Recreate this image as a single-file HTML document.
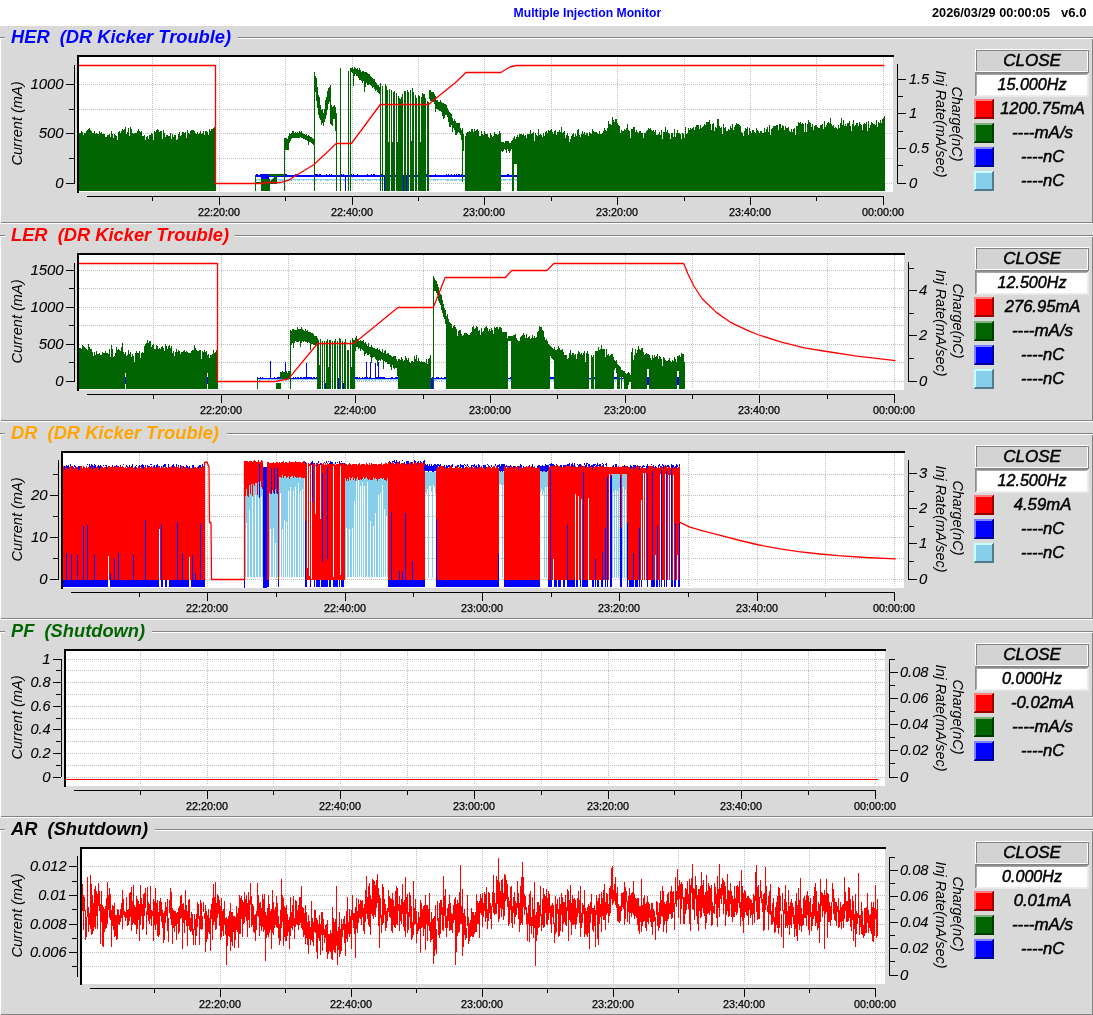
<!DOCTYPE html>
<html><head><meta charset="utf-8"><title>Multiple Injection Monitor</title>
<style>html,body{margin:0;padding:0;background:#fff;overflow:hidden}svg{display:block}text{white-space:pre}</style>
</head><body>
<svg width="1093" height="1015" viewBox="0 0 1093 1015" font-family="'Liberation Sans', Arial, Helvetica, sans-serif">
<rect x="0" y="0" width="1093" height="26" fill="#fff" />
<rect x="0" y="26" width="1093" height="989" fill="#d9d9d9" />
<text x="587.4" y="17" font-size="12.2" fill="#0000ff" font-weight="bold" font-style="normal" text-anchor="middle" >Multiple Injection Monitor</text>
<text x="932" y="17" font-size="12.3" fill="#000" font-weight="bold" font-style="normal" text-anchor="start"  textLength="118" lengthAdjust="spacingAndGlyphs">2026/03/29 00:00:05</text>
<text x="1061" y="17" font-size="12.3" fill="#000" font-weight="bold" font-style="normal" text-anchor="start"  textLength="25.5" lengthAdjust="spacingAndGlyphs">v6.0</text>
<rect x="0" y="37" width="1093" height="1" fill="#828282" />
<rect x="0" y="38" width="1093" height="1" fill="#fff" />
<rect x="0" y="38" width="1" height="186" fill="#fff" />
<rect x="1" y="222" width="1092" height="1" fill="#828282" />
<rect x="0" y="223" width="1093" height="1" fill="#fff" />
<rect x="1092" y="39" width="1" height="184" fill="#828282" />
<rect x="5" y="36" width="233" height="4" fill="#d9d9d9" />
<text x="11" y="42.5" font-size="18.3" fill="#0000ff" font-weight="bold" font-style="italic" text-anchor="start" >HER  (DR Kicker Trouble)</text>
<rect x="77" y="55" width="816" height="137" fill="#fff" />
<rect x="77" y="55" width="817" height="2" fill="#000" />
<rect x="77" y="55" width="2" height="138" fill="#000" />
<line x1="79" y1="84.5" x2="893" y2="84.5" stroke="#bebebe" stroke-width="1" stroke-dasharray="1 1"/>
<line x1="79" y1="109.5" x2="893" y2="109.5" stroke="#bebebe" stroke-width="1" stroke-dasharray="1 1"/>
<line x1="79" y1="133.5" x2="893" y2="133.5" stroke="#bebebe" stroke-width="1" stroke-dasharray="1 1"/>
<line x1="79" y1="158.5" x2="893" y2="158.5" stroke="#bebebe" stroke-width="1" stroke-dasharray="1 1"/>
<line x1="79" y1="183.5" x2="893" y2="183.5" stroke="#bebebe" stroke-width="1" stroke-dasharray="1 1"/>
<line x1="152.5" y1="57" x2="152.5" y2="191" stroke="#bebebe" stroke-width="1" stroke-dasharray="1 1"/>
<line x1="219.5" y1="57" x2="219.5" y2="191" stroke="#bebebe" stroke-width="1" stroke-dasharray="1 1"/>
<line x1="285.5" y1="57" x2="285.5" y2="191" stroke="#bebebe" stroke-width="1" stroke-dasharray="1 1"/>
<line x1="352.5" y1="57" x2="352.5" y2="191" stroke="#bebebe" stroke-width="1" stroke-dasharray="1 1"/>
<line x1="418.5" y1="57" x2="418.5" y2="191" stroke="#bebebe" stroke-width="1" stroke-dasharray="1 1"/>
<line x1="484.5" y1="57" x2="484.5" y2="191" stroke="#bebebe" stroke-width="1" stroke-dasharray="1 1"/>
<line x1="551.5" y1="57" x2="551.5" y2="191" stroke="#bebebe" stroke-width="1" stroke-dasharray="1 1"/>
<line x1="617.5" y1="57" x2="617.5" y2="191" stroke="#bebebe" stroke-width="1" stroke-dasharray="1 1"/>
<line x1="684.5" y1="57" x2="684.5" y2="191" stroke="#bebebe" stroke-width="1" stroke-dasharray="1 1"/>
<line x1="750.5" y1="57" x2="750.5" y2="191" stroke="#bebebe" stroke-width="1" stroke-dasharray="1 1"/>
<line x1="816.5" y1="57" x2="816.5" y2="191" stroke="#bebebe" stroke-width="1" stroke-dasharray="1 1"/>
<line x1="883.5" y1="57" x2="883.5" y2="191" stroke="#bebebe" stroke-width="1" stroke-dasharray="1 1"/>
<path d="M256.5 179v2M257.5 179v1M258.5 179v1M259.5 179v2M260.5 179v2M261.5 179v2M262.5 179v1M263.5 179v1M264.5 179v2M265.5 179v2M266.5 179v1M267.5 179v2M268.5 179v1M269.5 179v2M270.5 179v2M271.5 179v1M272.5 179v2M273.5 179v1M274.5 179v1M275.5 179v2M276.5 179v2M277.5 179v1M278.5 179v1M279.5 179v2M280.5 179v2M281.5 179v2M282.5 179v2M283.5 179v2M284.5 179v2M285.5 179v2M286.5 179v2M287.5 179v2M288.5 179v2M289.5 179v2M290.5 179v2M291.5 179v2M292.5 179v1M293.5 179v1M294.5 179v1M295.5 179v2M296.5 179v1M297.5 179v1M298.5 179v2M299.5 179v2M300.5 179v1M301.5 179v1M302.5 179v1M303.5 179v2M304.5 179v1M305.5 179v1M306.5 179v2M307.5 179v1M308.5 179v1M309.5 179v1M310.5 179v1M311.5 179v1M312.5 179v2M313.5 179v2M314.5 179v1M315.5 179v2M316.5 179v2M317.5 179v1M318.5 179v1M319.5 179v1M320.5 179v2M321.5 179v2M322.5 179v1M323.5 179v1M324.5 179v1M325.5 179v2M326.5 179v2M327.5 179v2M328.5 179v2M329.5 179v1M330.5 179v1M331.5 179v1M332.5 179v2M333.5 179v2M334.5 179v1M335.5 179v1M336.5 179v1M337.5 179v1M338.5 179v1M339.5 179v2M340.5 179v1M341.5 179v1M342.5 179v1M343.5 179v2M344.5 179v2M345.5 179v1M346.5 179v1M347.5 179v2M348.5 179v1M349.5 179v1M350.5 179v1M351.5 179v1M352.5 179v1M353.5 179v1M354.5 179v1M355.5 179v2M356.5 179v2M357.5 179v1M358.5 179v1M359.5 179v2M360.5 179v1M361.5 179v2M362.5 179v2M363.5 179v2M364.5 179v1M365.5 179v1M366.5 179v1M367.5 179v2M368.5 179v2M369.5 179v2M370.5 179v2M371.5 179v1M372.5 179v1M373.5 179v1M374.5 179v1M375.5 179v1M376.5 179v2M377.5 179v1M378.5 179v1M379.5 179v2M380.5 179v2M381.5 179v2M382.5 179v1M383.5 179v2M384.5 179v2M385.5 179v1M386.5 179v2M387.5 179v2M388.5 179v2M389.5 179v1M390.5 179v2M391.5 179v2M392.5 179v1M393.5 179v2M394.5 179v2M395.5 179v2M396.5 179v2M397.5 179v2M398.5 179v2M399.5 179v2M400.5 179v2M401.5 179v1M402.5 179v1M403.5 179v2M404.5 179v1M405.5 179v1M406.5 179v2M407.5 179v2M408.5 179v2M409.5 179v1M410.5 179v2M411.5 179v1M412.5 179v1M413.5 179v1M414.5 179v2M415.5 179v1M416.5 179v1M417.5 179v1M418.5 179v2M419.5 179v1M420.5 179v2M421.5 179v1M422.5 179v2M423.5 179v1M424.5 179v2M425.5 179v2M426.5 179v1M427.5 179v1M428.5 179v2M429.5 179v1M430.5 179v2M431.5 179v1M432.5 179v1M433.5 179v2M434.5 179v2M435.5 179v2M436.5 179v1M437.5 179v2M438.5 179v1M439.5 179v1M440.5 179v1M441.5 179v2M442.5 179v1M443.5 179v1M444.5 179v1M445.5 179v1M446.5 179v2M447.5 179v2M448.5 179v2M449.5 179v1M450.5 179v2M451.5 179v2M452.5 179v2M453.5 179v1M454.5 179v2M455.5 179v2M456.5 179v2M457.5 179v1M458.5 179v1M459.5 179v2M460.5 179v2M461.5 179v2M462.5 179v1M463.5 179v1M464.5 179v2M465.5 179v2M466.5 179v1M467.5 179v1M468.5 179v1M469.5 179v2M470.5 179v1M471.5 179v1M472.5 179v2M473.5 179v1M474.5 179v2M475.5 179v1M476.5 179v2M477.5 179v2M478.5 179v1M479.5 179v2M480.5 179v1M481.5 179v1M482.5 179v1M483.5 179v2M484.5 179v2M485.5 179v2M486.5 179v1M487.5 179v1M488.5 179v1M489.5 179v1M490.5 179v2M491.5 179v1M492.5 179v2M493.5 179v2M494.5 179v2M495.5 179v1M496.5 179v1M497.5 179v1M498.5 179v2M499.5 179v1M500.5 179v1M501.5 179v2M502.5 179v1M503.5 179v2M504.5 179v2M505.5 179v2M506.5 179v1M507.5 179v1M508.5 179v1M509.5 179v2M510.5 179v2M511.5 179v1M512.5 179v1M513.5 179v2M514.5 179v1M515.5 179v2M516.5 179v2" stroke="#87ceeb" stroke-width="1" fill="none" shape-rendering="crispEdges"/>
<path d="M255.5 175v2M256.5 174v3M257.5 174v3M258.5 175v2M259.5 175v2M260.5 174v3M261.5 174v11M262.5 174v11M263.5 174v11M264.5 174v11M265.5 174v11M266.5 174v11M267.5 174v11M268.5 174v11M269.5 175v2M270.5 175v2M271.5 175v2M272.5 174v3M273.5 175v2M274.5 174v3M275.5 174v3M276.5 175v2M277.5 175v2M278.5 175v2M279.5 175v2M280.5 175v2M281.5 174v3M282.5 175v2M283.5 175v2M284.5 175v2M285.5 174v3M286.5 174v3M287.5 175v2M288.5 175v2M289.5 175v2M290.5 175v2M291.5 175v2M292.5 175v2M293.5 175v2M294.5 175v2M295.5 174v3M296.5 174v3M297.5 175v2M298.5 175v2M299.5 175v2M300.5 175v2M301.5 175v2M302.5 175v2M303.5 175v2M304.5 175v2M305.5 175v2M306.5 175v2M307.5 175v2M308.5 175v2M309.5 175v2M310.5 175v2M311.5 175v2M312.5 175v2M313.5 175v2M314.5 174v3M315.5 174v3M316.5 174v3M317.5 174v3M318.5 175v2M319.5 174v3M320.5 174v3M321.5 175v2M322.5 175v2M323.5 175v2M324.5 175v2M325.5 175v2M326.5 174v3M327.5 175v2M328.5 175v2M329.5 174v3M330.5 175v2M331.5 174v3M332.5 175v2M333.5 175v2M334.5 175v2M335.5 175v2M336.5 174v3M337.5 175v2M338.5 175v2M339.5 175v2M340.5 175v2M341.5 174v3M342.5 175v2M343.5 174v3M344.5 175v2M345.5 175v16M346.5 175v2M347.5 175v2M348.5 175v2M349.5 175v2M350.5 175v2M351.5 174v3M352.5 175v2M353.5 174v3M354.5 175v2M355.5 175v2M356.5 175v2M357.5 174v3M358.5 175v2M359.5 175v2M360.5 175v2M361.5 175v2M362.5 175v2M363.5 175v2M364.5 175v2M365.5 175v2M366.5 175v2M367.5 174v3M368.5 175v2M369.5 175v2M370.5 175v2M371.5 174v3M372.5 175v2M373.5 174v3M374.5 174v3M375.5 175v2M376.5 175v2M377.5 175v2M378.5 175v2M379.5 175v2M380.5 174v3M381.5 174v3M382.5 175v2M383.5 175v2M384.5 175v16M385.5 175v16M386.5 175v2M387.5 175v2M388.5 174v3M389.5 175v2M390.5 175v2M391.5 174v3M392.5 175v2M393.5 175v2M394.5 175v2M395.5 175v2M396.5 175v2M397.5 175v2M398.5 174v3M399.5 174v3M400.5 175v2M401.5 175v2M402.5 174v3M403.5 175v16M404.5 175v16M405.5 175v16M406.5 175v16M407.5 175v2M408.5 175v2M409.5 175v2M410.5 175v2M411.5 175v2M412.5 175v2M413.5 175v2M414.5 175v2M415.5 175v2M416.5 174v3M417.5 175v2M418.5 174v3M419.5 175v2M420.5 175v2M421.5 174v3M422.5 175v2M423.5 175v2M424.5 175v2M425.5 175v2M426.5 174v3M427.5 175v2M428.5 174v3M429.5 175v2M430.5 175v2M431.5 175v2M432.5 175v2M433.5 175v2M434.5 175v2M435.5 174v3M436.5 175v2M437.5 175v2M438.5 175v2M439.5 175v2M440.5 175v2M441.5 175v2M442.5 175v2M443.5 175v2M444.5 175v2M445.5 175v2M446.5 174v3M447.5 175v2M448.5 174v3M449.5 175v2M450.5 175v2M451.5 174v3M452.5 175v2M453.5 175v2M454.5 174v3M455.5 175v2M456.5 174v3M457.5 175v2M458.5 174v3M459.5 174v3M460.5 175v2M461.5 174v3M462.5 175v2M463.5 175v2M464.5 175v2M465.5 174v3M466.5 175v2M467.5 175v2M468.5 175v2M469.5 175v2M470.5 175v2M471.5 175v2M472.5 175v2M473.5 175v2M474.5 175v2M475.5 175v2M476.5 175v2M477.5 175v2M478.5 175v2M479.5 175v2M480.5 175v2M481.5 175v2M482.5 174v3M483.5 175v2M484.5 174v3M485.5 175v2M486.5 175v2M487.5 175v2M488.5 175v2M489.5 175v2M490.5 174v3M491.5 175v2M492.5 175v2M493.5 175v2M494.5 175v2M495.5 175v2M496.5 175v2M497.5 174v3M498.5 175v2M499.5 175v2M500.5 175v2M501.5 175v2M502.5 175v2M503.5 175v2M504.5 175v2M505.5 175v2M506.5 175v2M507.5 174v3M508.5 174v3M509.5 175v2M510.5 175v2M511.5 175v2M512.5 175v2M513.5 175v2M514.5 175v2M515.5 175v2M516.5 175v2" stroke="#0000ff" stroke-width="1" fill="none" shape-rendering="crispEdges"/>
<path d="M79.5 133v58M80.5 133v58M81.5 131v60M82.5 132v59M83.5 135v56M84.5 133v58M85.5 133v58M86.5 131v60M87.5 130v61M88.5 129v62M89.5 128v63M90.5 130v61M91.5 131v60M92.5 133v58M93.5 133v58M94.5 131v60M95.5 134v57M96.5 133v58M97.5 134v57M98.5 134v57M99.5 131v60M100.5 133v58M101.5 132v59M102.5 134v57M103.5 134v57M104.5 134v57M105.5 137v54M106.5 137v54M107.5 135v56M108.5 135v56M109.5 134v57M110.5 137v54M111.5 131v60M112.5 134v57M113.5 138v53M114.5 134v57M115.5 135v56M116.5 136v55M117.5 140v51M118.5 132v59M119.5 131v60M120.5 133v58M121.5 131v60M122.5 129v62M123.5 130v61M124.5 129v62M125.5 127v64M126.5 134v57M127.5 132v59M128.5 128v63M129.5 136v55M130.5 127v64M131.5 129v62M132.5 133v58M133.5 134v57M134.5 133v58M135.5 133v58M136.5 133v58M137.5 131v60M138.5 129v62M139.5 131v60M140.5 132v59M141.5 131v60M142.5 136v55M143.5 136v55M144.5 135v56M145.5 140v51M146.5 137v54M147.5 136v55M148.5 139v52M149.5 135v56M150.5 135v56M151.5 133v58M152.5 134v57M153.5 140v51M154.5 131v60M155.5 132v59M156.5 130v61M157.5 129v62M158.5 130v61M159.5 132v59M160.5 131v60M161.5 131v60M162.5 139v52M163.5 130v61M164.5 133v58M165.5 137v54M166.5 135v56M167.5 135v56M168.5 136v55M169.5 136v55M170.5 133v58M171.5 139v52M172.5 134v57M173.5 137v54M174.5 135v56M175.5 135v56M176.5 140v51M177.5 139v52M178.5 134v57M179.5 132v59M180.5 136v55M181.5 135v56M182.5 132v59M183.5 132v59M184.5 133v58M185.5 132v59M186.5 138v53M187.5 130v61M188.5 133v58M189.5 134v57M190.5 131v60M191.5 130v61M192.5 130v61M193.5 130v61M194.5 131v60M195.5 133v58M196.5 134v57M197.5 132v59M198.5 134v57M199.5 133v58M200.5 131v60M201.5 134v57M202.5 133v58M203.5 131v60M204.5 135v56M205.5 131v60M206.5 131v60M207.5 132v59M208.5 135v56M209.5 129v62M210.5 131v60M211.5 129v62M212.5 129v62M213.5 128v63M214.5 127v64M215.5 126v65M255.5 175v16M256.5 182v2M257.5 182v2M258.5 182v2M259.5 182v2M260.5 182v2M261.5 179v12M262.5 179v12M263.5 179v12M264.5 179v12M265.5 179v12M266.5 179v12M267.5 179v12M268.5 179v12M269.5 174v2M269.5 179v12M270.5 174v2M270.5 181v3M271.5 174v2M271.5 180v4M272.5 174v2M272.5 179v5M273.5 174v2M273.5 178v6M274.5 174v2M274.5 177v7M275.5 174v10M276.5 174v10M277.5 174v2M278.5 174v2M279.5 174v2M280.5 174v2M281.5 174v2M282.5 174v2M283.5 174v2M284.5 138v53M285.5 138v12M286.5 138v12M287.5 139v11M288.5 136v14M289.5 133v10M290.5 134v7M291.5 133v6M292.5 131v7M293.5 131v7M294.5 133v5M295.5 132v6M296.5 133v5M297.5 132v6M298.5 133v5M299.5 131v7M300.5 132v5M301.5 131v7M302.5 133v5M303.5 134v5M304.5 134v5M305.5 135v5M306.5 134v6M307.5 136v5M308.5 135v10M309.5 136v6M310.5 137v5M311.5 137v6M312.5 138v6M313.5 139v6M314.5 72v119M315.5 76v16M316.5 78v23M317.5 87v21M318.5 95v20M319.5 97v21M320.5 105v15M321.5 110v15M322.5 109v14M323.5 113v13M324.5 109v13M325.5 100v19M326.5 97v18M327.5 91v19M328.5 88v16M329.5 87v15M330.5 85v39M331.5 105v20M332.5 107v19M333.5 106v13M334.5 105v14M335.5 107v24M336.5 113v78M340.5 68v123M348.5 71v120M350.5 68v123M351.5 68v4M352.5 67v6M353.5 69v17M354.5 67v9M355.5 68v6M356.5 69v7M357.5 68v8M358.5 70v8M359.5 68v12M360.5 70v10M361.5 72v9M362.5 71v12M363.5 71v10M364.5 72v20M365.5 72v15M366.5 72v11M367.5 73v12M368.5 74v11M369.5 74v10M370.5 76v9M371.5 77v9M372.5 78v10M373.5 79v8M374.5 79v10M375.5 82v9M376.5 83v7M377.5 85v7M378.5 85v8M379.5 87v7M380.5 83v108M382.5 86v105M385.5 84v107M386.5 86v105M387.5 90v101M388.5 142v49M389.5 89v102M391.5 90v101M392.5 142v49M393.5 92v99M394.5 91v100M396.5 93v98M397.5 142v49M398.5 96v95M399.5 98v93M400.5 99v92M401.5 97v94M402.5 94v97M404.5 91v100M405.5 91v100M407.5 90v101M408.5 92v99M410.5 90v101M411.5 141v50M412.5 88v103M413.5 92v99M415.5 95v96M416.5 98v93M418.5 95v96M419.5 96v95M420.5 142v49M421.5 97v94M422.5 93v98M423.5 94v97M424.5 94v97M425.5 98v93M427.5 101v90M428.5 102v89M429.5 90v9M430.5 90v11M431.5 92v9M432.5 92v10M433.5 92v10M434.5 94v10M435.5 96v16M436.5 100v9M437.5 100v9M438.5 102v8M439.5 102v9M440.5 100v11M441.5 102v10M442.5 103v13M443.5 103v16M444.5 104v14M445.5 104v11M446.5 105v10M447.5 108v9M448.5 110v12M449.5 112v15M450.5 113v14M451.5 114v11M452.5 118v14M453.5 121v7M454.5 119v11M455.5 121v14M456.5 123v12M457.5 123v10M458.5 123v9M459.5 123v10M460.5 128v7M461.5 130v10M462.5 128v54M463.5 134v17M465.5 136v55M466.5 133v58M467.5 132v59M468.5 132v59M469.5 131v60M470.5 132v59M471.5 129v62M472.5 129v62M473.5 132v59M474.5 129v62M475.5 131v60M476.5 130v61M477.5 129v62M478.5 131v60M479.5 136v55M480.5 136v55M481.5 131v60M482.5 134v57M483.5 135v56M484.5 131v60M485.5 134v57M486.5 134v57M487.5 134v57M488.5 137v54M489.5 138v53M490.5 133v58M491.5 135v56M492.5 137v54M493.5 136v55M494.5 132v59M495.5 134v57M496.5 134v57M497.5 135v56M498.5 134v57M499.5 131v60M500.5 133v58M501.5 142v9M502.5 142v10M503.5 142v9M504.5 143v6M505.5 141v9M506.5 141v12M507.5 141v8M508.5 141v10M509.5 143v10M510.5 143v8M511.5 141v8M512.5 140v51M513.5 138v53M514.5 136v28M515.5 139v25M516.5 137v27M517.5 135v56M518.5 137v54M519.5 134v57M520.5 134v57M521.5 134v57M522.5 135v56M523.5 134v57M524.5 136v55M525.5 135v56M526.5 138v53M527.5 134v57M528.5 134v57M529.5 134v57M530.5 130v61M531.5 134v57M532.5 133v58M533.5 132v59M534.5 141v50M535.5 133v58M536.5 135v56M537.5 136v55M538.5 129v62M539.5 135v56M540.5 134v57M541.5 135v56M542.5 137v54M543.5 133v58M544.5 136v55M545.5 132v59M546.5 131v60M547.5 133v58M548.5 130v61M549.5 131v60M550.5 130v61M551.5 129v62M552.5 132v59M553.5 134v57M554.5 131v60M555.5 130v61M556.5 135v56M557.5 132v59M558.5 132v59M559.5 130v61M560.5 132v59M561.5 127v64M562.5 133v58M563.5 132v59M564.5 131v60M565.5 138v53M566.5 135v56M567.5 133v58M568.5 136v55M569.5 142v49M570.5 139v52M571.5 136v55M572.5 134v57M573.5 133v58M574.5 137v54M575.5 134v57M576.5 136v55M577.5 130v61M578.5 129v62M579.5 135v56M580.5 137v54M581.5 134v57M582.5 131v60M583.5 134v57M584.5 132v59M585.5 135v56M586.5 133v58M587.5 133v58M588.5 136v55M589.5 132v59M590.5 133v58M591.5 134v57M592.5 129v62M593.5 131v60M594.5 132v59M595.5 132v59M596.5 132v59M597.5 133v58M598.5 134v57M599.5 131v60M600.5 134v57M601.5 134v57M602.5 133v58M603.5 131v60M604.5 128v63M605.5 130v61M606.5 131v60M607.5 128v63M608.5 121v70M609.5 124v67M610.5 124v67M611.5 125v66M612.5 117v74M613.5 120v71M614.5 122v69M615.5 119v72M616.5 119v72M617.5 123v68M618.5 125v66M619.5 126v65M620.5 133v58M621.5 130v61M622.5 131v60M623.5 131v60M624.5 129v62M625.5 130v61M626.5 128v63M627.5 124v67M628.5 130v61M629.5 131v60M630.5 138v53M631.5 129v62M632.5 129v62M633.5 127v64M634.5 127v64M635.5 132v59M636.5 130v61M637.5 132v59M638.5 133v58M639.5 131v60M640.5 131v60M641.5 133v58M642.5 133v58M643.5 138v53M644.5 133v58M645.5 133v58M646.5 131v60M647.5 130v61M648.5 128v63M649.5 129v62M650.5 128v63M651.5 130v61M652.5 131v60M653.5 130v61M654.5 132v59M655.5 130v61M656.5 135v56M657.5 135v56M658.5 134v57M659.5 132v59M660.5 135v56M661.5 130v61M662.5 139v52M663.5 132v59M664.5 132v59M665.5 127v64M666.5 132v59M667.5 130v61M668.5 133v58M669.5 134v57M670.5 139v52M671.5 133v58M672.5 133v58M673.5 137v54M674.5 129v62M675.5 137v54M676.5 133v58M677.5 130v61M678.5 133v58M679.5 133v58M680.5 134v57M681.5 139v52M682.5 133v58M683.5 134v57M684.5 138v53M685.5 127v64M686.5 134v57M687.5 133v58M688.5 128v63M689.5 130v61M690.5 128v63M691.5 129v62M692.5 128v63M693.5 127v64M694.5 130v61M695.5 127v64M696.5 125v66M697.5 125v66M698.5 125v66M699.5 129v62M700.5 125v66M701.5 128v63M702.5 127v64M703.5 126v65M704.5 124v67M705.5 125v66M706.5 122v69M707.5 122v69M708.5 122v69M709.5 120v71M710.5 124v67M711.5 130v61M712.5 124v67M713.5 123v68M714.5 131v60M715.5 127v64M716.5 128v63M717.5 119v72M718.5 119v72M719.5 126v65M720.5 128v63M721.5 127v64M722.5 134v57M723.5 124v67M724.5 128v63M725.5 127v64M726.5 131v60M727.5 131v60M728.5 129v62M729.5 130v61M730.5 126v65M731.5 128v63M732.5 124v67M733.5 130v61M734.5 127v64M735.5 125v66M736.5 123v68M737.5 124v67M738.5 124v67M739.5 125v66M740.5 126v65M741.5 132v59M742.5 133v58M743.5 136v55M744.5 131v60M745.5 128v63M746.5 129v62M747.5 127v64M748.5 135v56M749.5 128v63M750.5 131v60M751.5 133v58M752.5 130v61M753.5 130v61M754.5 132v59M755.5 133v58M756.5 128v63M757.5 130v61M758.5 131v60M759.5 133v58M760.5 131v60M761.5 131v60M762.5 133v58M763.5 133v58M764.5 128v63M765.5 132v59M766.5 129v62M767.5 127v64M768.5 132v59M769.5 125v66M770.5 135v56M771.5 129v62M772.5 128v63M773.5 126v65M774.5 126v65M775.5 126v65M776.5 125v66M777.5 125v66M778.5 130v61M779.5 124v67M780.5 124v67M781.5 128v63M782.5 125v66M783.5 126v65M784.5 130v61M785.5 126v65M786.5 128v63M787.5 128v63M788.5 127v64M789.5 131v60M790.5 132v59M791.5 129v62M792.5 132v59M793.5 129v62M794.5 128v63M795.5 135v56M796.5 126v65M797.5 126v65M798.5 122v69M799.5 123v68M800.5 122v69M801.5 124v67M802.5 123v68M803.5 124v67M804.5 132v59M805.5 123v68M806.5 132v59M807.5 124v67M808.5 120v71M809.5 122v69M810.5 123v68M811.5 127v64M812.5 124v67M813.5 130v61M814.5 126v65M815.5 125v66M816.5 125v66M817.5 127v64M818.5 128v63M819.5 128v63M820.5 125v66M821.5 125v66M822.5 124v67M823.5 129v62M824.5 121v70M825.5 127v64M826.5 125v66M827.5 123v68M828.5 122v69M829.5 123v68M830.5 118v73M831.5 124v67M832.5 126v65M833.5 125v66M834.5 128v63M835.5 127v64M836.5 128v63M837.5 129v62M838.5 125v66M839.5 128v63M840.5 123v68M841.5 118v73M842.5 125v66M843.5 120v71M844.5 126v65M845.5 124v67M846.5 126v65M847.5 123v68M848.5 123v68M849.5 121v70M850.5 126v65M851.5 131v60M852.5 124v67M853.5 120v71M854.5 126v65M855.5 125v66M856.5 123v68M857.5 123v68M858.5 126v65M859.5 122v69M860.5 124v67M861.5 125v66M862.5 130v61M863.5 124v67M864.5 123v68M865.5 124v67M866.5 122v69M867.5 131v60M868.5 121v70M869.5 128v63M870.5 125v66M871.5 122v69M872.5 123v68M873.5 124v67M874.5 124v67M875.5 125v66M876.5 120v71M877.5 127v64M878.5 122v69M879.5 123v68M880.5 120v71M881.5 123v68M882.5 119v72M883.5 118v73M884.5 116v75" stroke="#006400" stroke-width="1" fill="none" shape-rendering="crispEdges"/>
<polyline points="79.0,65.5 215.5,65.5 215.5,183.5 264.0,183.5 264.0,182.5 281.0,182.5 284.5,181.3 288.0,180.5 314.0,164.5 330.0,149.5 336.2,143.5 351.4,143.5 380.3,104.5 428.6,104.5 440.0,95.0 455.0,83.0 465.9,72.5 501.0,72.5 504.0,70.5 510.0,67.0 516.0,65.5 884.5,65.5" fill="none" stroke="#ff0000" stroke-width="1.3" stroke-linejoin="round" />
<rect x="74" y="65" width="1" height="119" fill="#000" />
<rect x="66" y="183" width="8" height="1" fill="#000" />
<text x="63.6" y="188" font-size="14" fill="#000" font-weight="normal" font-style="italic" text-anchor="end" stroke="#000" stroke-width="0.1" textLength="8.3" lengthAdjust="spacingAndGlyphs">0</text>
<rect x="66" y="133" width="8" height="1" fill="#000" />
<text x="63.6" y="138" font-size="14" fill="#000" font-weight="normal" font-style="italic" text-anchor="end" stroke="#000" stroke-width="0.1" textLength="24.900000000000002" lengthAdjust="spacingAndGlyphs">500</text>
<rect x="66" y="84" width="8" height="1" fill="#000" />
<text x="63.6" y="89" font-size="14" fill="#000" font-weight="normal" font-style="italic" text-anchor="end" stroke="#000" stroke-width="0.1" textLength="33.2" lengthAdjust="spacingAndGlyphs">1000</text>
<rect x="69" y="158" width="5" height="1" fill="#000" />
<rect x="69" y="109" width="5" height="1" fill="#000" />
<rect x="897" y="64" width="1" height="120" fill="#000" />
<rect x="898" y="183" width="8" height="1" fill="#000" />
<text x="909" y="188" font-size="14" fill="#000" font-weight="normal" font-style="italic" text-anchor="start" stroke="#000" stroke-width="0.1" textLength="8.3" lengthAdjust="spacingAndGlyphs">0</text>
<rect x="898" y="148" width="8" height="1" fill="#000" />
<text x="909" y="153" font-size="14" fill="#000" font-weight="normal" font-style="italic" text-anchor="start" stroke="#000" stroke-width="0.1" textLength="20.1" lengthAdjust="spacingAndGlyphs">0.5</text>
<rect x="898" y="113" width="8" height="1" fill="#000" />
<text x="909" y="118" font-size="14" fill="#000" font-weight="normal" font-style="italic" text-anchor="start" stroke="#000" stroke-width="0.1" textLength="8.3" lengthAdjust="spacingAndGlyphs">1</text>
<rect x="898" y="79" width="8" height="1" fill="#000" />
<text x="909" y="84" font-size="14" fill="#000" font-weight="normal" font-style="italic" text-anchor="start" stroke="#000" stroke-width="0.1" textLength="20.1" lengthAdjust="spacingAndGlyphs">1.5</text>
<rect x="898" y="165" width="5" height="1" fill="#000" />
<rect x="898" y="131" width="5" height="1" fill="#000" />
<rect x="898" y="96" width="5" height="1" fill="#000" />
<rect x="87" y="196" width="797" height="1" fill="#000" />
<rect x="219" y="197" width="1" height="8" fill="#000" />
<text x="219" y="216" font-size="10.5" fill="#000" font-weight="normal" font-style="normal" text-anchor="middle" stroke="#000" stroke-width="0.25" textLength="42" lengthAdjust="spacingAndGlyphs">22:20:00</text>
<rect x="352" y="197" width="1" height="8" fill="#000" />
<text x="352" y="216" font-size="10.5" fill="#000" font-weight="normal" font-style="normal" text-anchor="middle" stroke="#000" stroke-width="0.25" textLength="42" lengthAdjust="spacingAndGlyphs">22:40:00</text>
<rect x="484" y="197" width="1" height="8" fill="#000" />
<text x="484" y="216" font-size="10.5" fill="#000" font-weight="normal" font-style="normal" text-anchor="middle" stroke="#000" stroke-width="0.25" textLength="42" lengthAdjust="spacingAndGlyphs">23:00:00</text>
<rect x="617" y="197" width="1" height="8" fill="#000" />
<text x="617" y="216" font-size="10.5" fill="#000" font-weight="normal" font-style="normal" text-anchor="middle" stroke="#000" stroke-width="0.25" textLength="42" lengthAdjust="spacingAndGlyphs">23:20:00</text>
<rect x="750" y="197" width="1" height="8" fill="#000" />
<text x="750" y="216" font-size="10.5" fill="#000" font-weight="normal" font-style="normal" text-anchor="middle" stroke="#000" stroke-width="0.25" textLength="42" lengthAdjust="spacingAndGlyphs">23:40:00</text>
<rect x="883" y="197" width="1" height="8" fill="#000" />
<text x="883" y="216" font-size="10.5" fill="#000" font-weight="normal" font-style="normal" text-anchor="middle" stroke="#000" stroke-width="0.25" textLength="42" lengthAdjust="spacingAndGlyphs">00:00:00</text>
<rect x="152" y="197" width="1" height="4" fill="#000" />
<rect x="285" y="197" width="1" height="4" fill="#000" />
<rect x="418" y="197" width="1" height="4" fill="#000" />
<rect x="551" y="197" width="1" height="4" fill="#000" />
<rect x="684" y="197" width="1" height="4" fill="#000" />
<rect x="816" y="197" width="1" height="4" fill="#000" />
<text transform="translate(936,124) rotate(90)" font-size="14" font-style="italic" text-anchor="middle" textLength="107" lengthAdjust="spacingAndGlyphs">Inj Rate(mA/sec)</text>
<text transform="translate(952,124) rotate(90)" font-size="14" font-style="italic" text-anchor="middle" textLength="75" lengthAdjust="spacingAndGlyphs">Charge(nC)</text>
<text transform="translate(21.5,123.5) rotate(-90)" font-size="14" font-style="italic" text-anchor="middle" textLength="84" lengthAdjust="spacingAndGlyphs">Current (mA)</text>
<rect x="975" y="49" width="114" height="24" fill="#d3d3d3" />
<rect x="975" y="49" width="114" height="1" fill="#fff" />
<rect x="975" y="49" width="1" height="23" fill="#fff" />
<rect x="975" y="72" width="114" height="1" fill="#828282" />
<rect x="1088" y="50" width="1" height="23" fill="#828282" />
<rect x="976" y="50" width="112" height="1" fill="#828282" />
<rect x="976" y="50" width="1" height="21" fill="#828282" />
<rect x="976" y="71" width="112" height="1" fill="#fff" />
<rect x="1087" y="51" width="1" height="21" fill="#fff" />
<text x="1032" y="66" font-size="16.8" fill="#000" font-weight="normal" font-style="italic" text-anchor="middle" stroke="#000" stroke-width="0.5" textLength="57.7" lengthAdjust="spacingAndGlyphs">CLOSE</text>
<rect x="975" y="73" width="114" height="24" fill="#fff" />
<rect x="975" y="96" width="114" height="1" fill="#e8e8e8" />
<rect x="1088" y="73" width="1" height="24" fill="#e8e8e8" />
<rect x="976" y="95" width="112" height="1" fill="#ececec" />
<rect x="1087" y="74" width="1" height="22" fill="#ececec" />
<rect x="975" y="73" width="113" height="1" fill="#8e8e8e" />
<rect x="975" y="73" width="1" height="23" fill="#8e8e8e" />
<rect x="976" y="74" width="111" height="1" fill="#a6a6a6" />
<rect x="976" y="74" width="1" height="21" fill="#a6a6a6" />
<text x="1032" y="90" font-size="16.8" fill="#000" font-weight="normal" font-style="italic" text-anchor="middle" stroke="#000" stroke-width="0.5" textLength="69.0" lengthAdjust="spacingAndGlyphs">15.000Hz</text>
<rect x="974" y="99" width="20" height="20" fill="#ff0000" />
<rect x="974" y="99" width="20" height="1" fill="#ff7f7f" />
<rect x="974" y="99" width="1" height="20" fill="#ff7f7f" />
<rect x="974" y="118" width="20" height="1" fill="#990000" />
<rect x="993" y="99" width="1" height="20" fill="#990000" />
<rect x="975" y="100" width="18" height="1" fill="#ff7f7f" />
<rect x="975" y="100" width="1" height="18" fill="#ff7f7f" />
<rect x="975" y="117" width="18" height="1" fill="#990000" />
<rect x="992" y="100" width="1" height="18" fill="#990000" />
<text x="1042.5" y="113.6" font-size="16.8" fill="#000" font-weight="normal" font-style="italic" text-anchor="middle" stroke="#000" stroke-width="0.5" textLength="84.7" lengthAdjust="spacingAndGlyphs">1200.75mA</text>
<rect x="974" y="123" width="20" height="20" fill="#006400" />
<rect x="974" y="123" width="20" height="1" fill="#7fb17f" />
<rect x="974" y="123" width="1" height="20" fill="#7fb17f" />
<rect x="974" y="142" width="20" height="1" fill="#003c00" />
<rect x="993" y="123" width="1" height="20" fill="#003c00" />
<rect x="975" y="124" width="18" height="1" fill="#7fb17f" />
<rect x="975" y="124" width="1" height="18" fill="#7fb17f" />
<rect x="975" y="141" width="18" height="1" fill="#003c00" />
<rect x="992" y="124" width="1" height="18" fill="#003c00" />
<text x="1042.5" y="137.6" font-size="16.8" fill="#000" font-weight="normal" font-style="italic" text-anchor="middle" stroke="#000" stroke-width="0.5" textLength="61.2" lengthAdjust="spacingAndGlyphs">----mA/s</text>
<rect x="974" y="147" width="20" height="20" fill="#0000ff" />
<rect x="974" y="147" width="20" height="1" fill="#7f7fff" />
<rect x="974" y="147" width="1" height="20" fill="#7f7fff" />
<rect x="974" y="166" width="20" height="1" fill="#000099" />
<rect x="993" y="147" width="1" height="20" fill="#000099" />
<rect x="975" y="148" width="18" height="1" fill="#7f7fff" />
<rect x="975" y="148" width="1" height="18" fill="#7f7fff" />
<rect x="975" y="165" width="18" height="1" fill="#000099" />
<rect x="992" y="148" width="1" height="18" fill="#000099" />
<text x="1042.5" y="161.6" font-size="16.8" fill="#000" font-weight="normal" font-style="italic" text-anchor="middle" stroke="#000" stroke-width="0.5" textLength="43.2" lengthAdjust="spacingAndGlyphs">----nC</text>
<rect x="974" y="171" width="20" height="20" fill="#87ceeb" />
<rect x="974" y="171" width="20" height="1" fill="#c3ffff" />
<rect x="974" y="171" width="1" height="20" fill="#c3ffff" />
<rect x="974" y="190" width="20" height="1" fill="#517b8d" />
<rect x="993" y="171" width="1" height="20" fill="#517b8d" />
<rect x="975" y="172" width="18" height="1" fill="#c3ffff" />
<rect x="975" y="172" width="1" height="18" fill="#c3ffff" />
<rect x="975" y="189" width="18" height="1" fill="#517b8d" />
<rect x="992" y="172" width="1" height="18" fill="#517b8d" />
<text x="1042.5" y="185.6" font-size="16.8" fill="#000" font-weight="normal" font-style="italic" text-anchor="middle" stroke="#000" stroke-width="0.5" textLength="43.2" lengthAdjust="spacingAndGlyphs">----nC</text>
<rect x="0" y="235" width="1093" height="1" fill="#828282" />
<rect x="0" y="236" width="1093" height="1" fill="#fff" />
<rect x="0" y="236" width="1" height="186" fill="#fff" />
<rect x="1" y="420" width="1092" height="1" fill="#828282" />
<rect x="0" y="421" width="1093" height="1" fill="#fff" />
<rect x="1092" y="237" width="1" height="184" fill="#828282" />
<rect x="5" y="234" width="230" height="4" fill="#d9d9d9" />
<text x="11" y="240.5" font-size="18.3" fill="#ff0000" font-weight="bold" font-style="italic" text-anchor="start" >LER  (DR Kicker Trouble)</text>
<rect x="77" y="253" width="827" height="137" fill="#fff" />
<rect x="77" y="253" width="828" height="2" fill="#000" />
<rect x="77" y="253" width="2" height="138" fill="#000" />
<line x1="79" y1="270.5" x2="904" y2="270.5" stroke="#bebebe" stroke-width="1" stroke-dasharray="1 1"/>
<line x1="79" y1="288.5" x2="904" y2="288.5" stroke="#bebebe" stroke-width="1" stroke-dasharray="1 1"/>
<line x1="79" y1="307.5" x2="904" y2="307.5" stroke="#bebebe" stroke-width="1" stroke-dasharray="1 1"/>
<line x1="79" y1="325.5" x2="904" y2="325.5" stroke="#bebebe" stroke-width="1" stroke-dasharray="1 1"/>
<line x1="79" y1="344.5" x2="904" y2="344.5" stroke="#bebebe" stroke-width="1" stroke-dasharray="1 1"/>
<line x1="79" y1="362.5" x2="904" y2="362.5" stroke="#bebebe" stroke-width="1" stroke-dasharray="1 1"/>
<line x1="79" y1="381.5" x2="904" y2="381.5" stroke="#bebebe" stroke-width="1" stroke-dasharray="1 1"/>
<line x1="153.5" y1="255" x2="153.5" y2="389" stroke="#bebebe" stroke-width="1" stroke-dasharray="1 1"/>
<line x1="221.5" y1="255" x2="221.5" y2="389" stroke="#bebebe" stroke-width="1" stroke-dasharray="1 1"/>
<line x1="288.5" y1="255" x2="288.5" y2="389" stroke="#bebebe" stroke-width="1" stroke-dasharray="1 1"/>
<line x1="355.5" y1="255" x2="355.5" y2="389" stroke="#bebebe" stroke-width="1" stroke-dasharray="1 1"/>
<line x1="423.5" y1="255" x2="423.5" y2="389" stroke="#bebebe" stroke-width="1" stroke-dasharray="1 1"/>
<line x1="490.5" y1="255" x2="490.5" y2="389" stroke="#bebebe" stroke-width="1" stroke-dasharray="1 1"/>
<line x1="557.5" y1="255" x2="557.5" y2="389" stroke="#bebebe" stroke-width="1" stroke-dasharray="1 1"/>
<line x1="625.5" y1="255" x2="625.5" y2="389" stroke="#bebebe" stroke-width="1" stroke-dasharray="1 1"/>
<line x1="692.5" y1="255" x2="692.5" y2="389" stroke="#bebebe" stroke-width="1" stroke-dasharray="1 1"/>
<line x1="759.5" y1="255" x2="759.5" y2="389" stroke="#bebebe" stroke-width="1" stroke-dasharray="1 1"/>
<line x1="827.5" y1="255" x2="827.5" y2="389" stroke="#bebebe" stroke-width="1" stroke-dasharray="1 1"/>
<line x1="894.5" y1="255" x2="894.5" y2="389" stroke="#bebebe" stroke-width="1" stroke-dasharray="1 1"/>
<path d="M257.5 379v1M258.5 379v1M259.5 379v2M260.5 379v2M261.5 379v1M262.5 379v1M263.5 379v1M264.5 379v1M265.5 379v1M266.5 379v1M267.5 379v1M268.5 379v2M269.5 379v1M270.5 379v1M271.5 379v1M272.5 379v1M273.5 379v1M274.5 379v1M275.5 379v1M276.5 379v2M277.5 379v2M278.5 379v2M279.5 379v1M280.5 379v1M281.5 379v1M282.5 379v1M283.5 379v1M284.5 379v1M285.5 379v2M286.5 379v2M287.5 379v1M288.5 379v2M289.5 379v1M290.5 379v1M291.5 379v1M292.5 379v2M293.5 379v1M294.5 379v1M295.5 379v1M296.5 379v1M297.5 379v1M298.5 379v1M299.5 379v1M300.5 379v1M301.5 379v1M302.5 379v2M303.5 379v1M304.5 379v1M305.5 379v1M306.5 379v1M307.5 379v1M308.5 379v1M309.5 379v1M310.5 379v1M311.5 379v1M312.5 379v1M313.5 379v1M314.5 379v1M315.5 379v1M316.5 379v1M355.5 379v1M356.5 379v1M357.5 379v2M358.5 379v1M359.5 379v2M360.5 379v1M361.5 379v2M362.5 379v1M363.5 379v2M364.5 379v1M365.5 379v2M366.5 379v2M367.5 379v1M368.5 379v2M369.5 379v2M370.5 379v1M371.5 379v1M372.5 379v2M373.5 379v1M374.5 379v2M375.5 379v2M376.5 379v1M377.5 379v1M378.5 379v1M379.5 379v2M380.5 379v1M381.5 379v2M382.5 379v1M383.5 379v1M384.5 379v1M385.5 379v1M386.5 379v1M387.5 379v1M388.5 379v1M389.5 379v1M390.5 379v2M391.5 379v1M392.5 379v1M393.5 379v2M394.5 379v1M395.5 379v1M396.5 379v2M397.5 379v1M398.5 379v1M399.5 379v1M400.5 379v2M401.5 379v1M402.5 379v2M403.5 379v1M404.5 379v1M405.5 379v2M406.5 379v1M407.5 379v2M408.5 379v2M409.5 379v2M410.5 379v2M411.5 379v2M412.5 379v1M413.5 379v1M414.5 379v1M415.5 379v1M416.5 379v1M417.5 379v2M418.5 379v1M419.5 379v2M420.5 379v1M421.5 379v1M422.5 379v1M423.5 379v1M424.5 379v2M425.5 379v1M426.5 379v1M427.5 379v2M428.5 379v2M429.5 379v1M430.5 379v2M431.5 379v1M432.5 379v2M433.5 379v2M434.5 379v2M435.5 379v2M436.5 379v2M437.5 379v1M438.5 379v1M439.5 379v1M440.5 379v1M441.5 379v2M442.5 379v1M443.5 379v1M444.5 379v1M445.5 379v1M446.5 379v1M447.5 379v1M448.5 379v2M449.5 379v1M450.5 379v1M451.5 379v2M452.5 379v2M453.5 379v1M454.5 379v1M455.5 379v1M456.5 379v1M457.5 379v1M458.5 379v2M459.5 379v1M460.5 379v1M461.5 379v2M462.5 379v1M463.5 379v2M464.5 379v1M465.5 379v1M466.5 379v1M467.5 379v2M468.5 379v1M469.5 379v1M470.5 379v1M471.5 379v2M472.5 379v1M473.5 379v2M474.5 379v2M475.5 379v1M476.5 379v1M477.5 379v2M478.5 379v1M479.5 379v2M480.5 379v1M481.5 379v1M482.5 379v1M483.5 379v1M484.5 379v1M485.5 379v2M486.5 379v2M487.5 379v2M488.5 379v1M489.5 379v1M490.5 379v1M491.5 379v1M492.5 379v2M493.5 379v1M494.5 379v1M495.5 379v1M496.5 379v1M497.5 379v1M498.5 379v1M499.5 379v1M500.5 379v2M501.5 379v1M502.5 379v1M503.5 379v1M504.5 379v1M505.5 379v1M506.5 379v1M507.5 379v2M508.5 379v2M509.5 379v1M510.5 379v2M511.5 379v1M512.5 379v1M513.5 379v1M514.5 379v1M515.5 379v1M516.5 379v2M517.5 379v1M518.5 379v1M519.5 379v2M520.5 379v1M521.5 379v2M522.5 379v2M523.5 379v1M524.5 379v1M525.5 379v1M526.5 379v2M527.5 379v2M528.5 379v2M529.5 379v1M530.5 379v1M531.5 379v1M532.5 379v1M533.5 379v2M534.5 379v1M535.5 379v1M536.5 379v1M537.5 379v2M538.5 379v1M539.5 379v1M540.5 379v2M541.5 379v1M542.5 379v1M543.5 379v1M544.5 379v1M545.5 379v1M546.5 379v1M547.5 379v1M548.5 379v2M549.5 379v1M550.5 379v2M551.5 379v1M552.5 379v1M553.5 379v2M554.5 379v1M555.5 379v1M556.5 379v1M557.5 379v1M558.5 379v1M559.5 379v1M560.5 379v1M561.5 379v1M562.5 379v1M563.5 379v1M564.5 379v1M565.5 379v1M566.5 379v1M567.5 379v2M568.5 379v1M569.5 379v1M570.5 379v1M571.5 379v1M572.5 379v1M573.5 379v2M574.5 379v1M575.5 379v1M576.5 379v1M577.5 379v1M578.5 379v1M579.5 379v2M580.5 379v1M581.5 379v1M582.5 379v1M583.5 379v1M584.5 379v1M585.5 379v2M586.5 379v1M587.5 379v1M588.5 379v2M589.5 379v1M590.5 379v1M591.5 379v2M592.5 379v1M593.5 379v2M594.5 379v1M595.5 379v1M596.5 379v2M597.5 379v1M598.5 379v1M599.5 379v2M600.5 379v1M601.5 379v2M602.5 379v2M603.5 379v1M604.5 379v1M605.5 379v1M606.5 379v1M607.5 379v1M608.5 379v1M609.5 379v1M610.5 379v2M611.5 379v1M612.5 379v2M613.5 379v2M614.5 379v1M615.5 379v2M616.5 379v1M617.5 379v1M618.5 379v1M619.5 379v1M620.5 379v1M621.5 379v1M622.5 379v2M623.5 379v2M624.5 379v1M625.5 379v1M626.5 379v2M627.5 379v2M628.5 379v1M629.5 379v1M630.5 379v1M631.5 379v1M632.5 379v1M633.5 379v1M634.5 379v1M635.5 379v1M636.5 379v1M637.5 379v1M638.5 379v1M639.5 379v1M640.5 379v2M641.5 379v1M642.5 379v1M643.5 379v1M644.5 379v1M645.5 379v1M646.5 379v1M647.5 379v1M648.5 379v2M649.5 379v1M650.5 379v1M651.5 379v1M652.5 379v1M653.5 379v1M654.5 379v1M655.5 379v1M656.5 379v2M657.5 379v1M658.5 379v2M659.5 379v2M660.5 379v1M661.5 379v2M662.5 379v1M663.5 379v1M664.5 379v1M665.5 379v1M666.5 379v2M667.5 379v1M668.5 379v2M669.5 379v1M670.5 379v2M671.5 379v1M672.5 379v1M673.5 379v1M674.5 379v1M675.5 379v1M676.5 379v1M677.5 379v2M678.5 379v2M679.5 379v2M680.5 379v1M681.5 379v1M682.5 379v1M683.5 379v1" stroke="#87ceeb" stroke-width="1" fill="none" shape-rendering="crispEdges"/>
<path d="M257.5 377v2M258.5 378v1M259.5 378v1M260.5 377v2M261.5 378v1M262.5 377v2M263.5 378v1M264.5 378v1M265.5 378v1M266.5 378v1M267.5 378v1M268.5 378v1M269.5 378v1M270.5 361v18M271.5 378v1M272.5 378v1M273.5 378v1M274.5 377v2M275.5 378v1M276.5 378v1M277.5 377v2M278.5 377v2M279.5 377v2M280.5 378v1M281.5 377v2M282.5 377v2M283.5 378v1M284.5 377v2M285.5 362v17M286.5 377v2M287.5 377v2M288.5 377v2M289.5 377v2M290.5 378v1M291.5 378v1M292.5 378v1M293.5 377v2M294.5 378v1M295.5 377v2M296.5 378v1M297.5 377v2M298.5 377v2M299.5 378v1M300.5 377v2M301.5 377v2M302.5 378v1M303.5 377v2M304.5 377v2M305.5 377v2M306.5 363v16M307.5 377v2M308.5 377v2M309.5 377v2M310.5 377v2M311.5 377v2M312.5 378v1M313.5 377v2M314.5 377v2M315.5 378v1M316.5 377v2M355.5 377v2M356.5 377v2M357.5 377v2M358.5 378v1M359.5 377v2M360.5 378v1M361.5 378v1M362.5 377v2M363.5 378v1M364.5 377v2M365.5 377v2M366.5 362v17M367.5 377v2M368.5 378v1M369.5 377v2M370.5 362v17M371.5 378v1M372.5 378v1M373.5 378v1M374.5 378v1M375.5 363v16M376.5 377v2M377.5 377v2M378.5 362v17M379.5 377v2M380.5 377v2M381.5 377v2M382.5 377v2M383.5 377v2M384.5 377v2M385.5 378v1M386.5 378v1M387.5 378v1M388.5 378v1M389.5 378v1M390.5 378v1M391.5 377v2M392.5 377v2M393.5 378v1M394.5 378v1M395.5 377v2M396.5 377v2M397.5 377v2M398.5 377v2M399.5 377v2M400.5 377v2M401.5 378v1M402.5 378v1M403.5 378v1M404.5 377v2M405.5 377v2M406.5 378v1M407.5 378v1M408.5 377v2M409.5 378v1M410.5 378v1M411.5 378v1M412.5 377v2M413.5 378v1M414.5 377v2M415.5 377v2M416.5 378v1M417.5 378v1M418.5 378v1M419.5 378v1M420.5 378v1M421.5 377v2M422.5 377v2M423.5 378v1M424.5 378v1M425.5 378v1M426.5 378v1M427.5 377v2M428.5 377v2M429.5 377v2M430.5 378v1M431.5 378v1M432.5 377v2M433.5 378v1M434.5 378v1M435.5 378v1M436.5 377v2M437.5 377v2M438.5 377v2M439.5 378v1M440.5 378v1M441.5 377v2M442.5 378v1M443.5 378v1M444.5 377v2M445.5 377v2M446.5 378v1M447.5 377v2M448.5 378v1M449.5 377v2M450.5 378v1M451.5 377v2M452.5 378v1M453.5 377v2M454.5 377v2M455.5 378v1M456.5 377v2M457.5 378v1M458.5 378v1M459.5 377v2M460.5 378v1M461.5 378v1M462.5 378v1M463.5 377v2M464.5 377v2M465.5 377v2M466.5 377v2M467.5 377v2M468.5 377v2M469.5 377v2M470.5 377v2M471.5 377v2M472.5 378v1M473.5 377v2M474.5 377v2M475.5 378v1M476.5 378v1M477.5 377v2M478.5 378v1M479.5 378v1M480.5 378v1M481.5 378v1M482.5 377v2M483.5 377v2M484.5 378v1M485.5 377v2M486.5 377v2M487.5 378v1M488.5 377v2M489.5 377v2M490.5 377v2M491.5 377v2M492.5 378v1M493.5 377v2M494.5 377v2M495.5 377v2M496.5 378v1M497.5 377v2M498.5 378v1M499.5 377v2M500.5 377v2M501.5 378v1M502.5 377v2M503.5 377v2M504.5 378v1M505.5 378v1M506.5 378v1M507.5 377v2M508.5 378v1M509.5 378v1M510.5 377v2M511.5 377v2M512.5 378v1M513.5 378v1M514.5 377v2M515.5 378v1M516.5 378v1M517.5 378v1M518.5 378v1M519.5 378v1M520.5 377v2M521.5 377v2M522.5 377v2M523.5 378v1M524.5 377v2M525.5 378v1M526.5 377v2M527.5 377v2M528.5 378v1M529.5 377v2M530.5 377v2M531.5 377v2M532.5 377v2M533.5 377v2M534.5 378v1M535.5 378v1M536.5 377v2M537.5 378v1M538.5 378v1M539.5 377v2M540.5 378v1M541.5 377v2M542.5 378v1M543.5 377v2M544.5 378v1M545.5 378v1M546.5 378v1M547.5 378v1M548.5 378v1M549.5 378v1M550.5 377v2M551.5 377v2M552.5 377v2M553.5 377v2M554.5 377v2M555.5 377v2M556.5 378v1M557.5 378v1M558.5 378v1M559.5 378v1M560.5 377v2M561.5 378v1M562.5 377v2M563.5 378v1M564.5 377v2M565.5 377v2M566.5 377v2M567.5 378v1M568.5 377v2M569.5 378v1M570.5 377v2M571.5 377v2M572.5 378v1M573.5 378v1M574.5 377v2M575.5 378v1M576.5 377v2M577.5 378v1M578.5 378v1M579.5 378v1M580.5 378v1M581.5 378v1M582.5 378v1M583.5 377v2M584.5 377v2M585.5 378v1M586.5 377v2M587.5 378v1M588.5 378v1M589.5 378v1M590.5 378v1M591.5 377v2M592.5 378v1M593.5 378v1M594.5 377v2M595.5 377v2M596.5 378v1M597.5 377v2M598.5 377v2M599.5 378v1M600.5 378v1M601.5 378v1M602.5 378v1M603.5 377v2M604.5 378v1M605.5 377v2M606.5 377v2M607.5 378v1M608.5 378v1M609.5 377v2M610.5 378v1M611.5 377v2M612.5 378v1M613.5 377v2M614.5 377v2M615.5 377v2M616.5 377v2M617.5 377v2M618.5 378v1M619.5 377v2M620.5 378v1M621.5 377v2M622.5 378v1M623.5 378v1M624.5 377v2M625.5 378v1M626.5 377v2M627.5 377v2M628.5 377v2M629.5 377v2M630.5 378v1M631.5 378v1M632.5 378v1M633.5 377v2M634.5 377v2M635.5 378v1M636.5 378v1M637.5 378v1M638.5 377v2M639.5 378v1M640.5 377v2M641.5 377v2M642.5 377v2M643.5 378v1M644.5 378v1M645.5 378v1M646.5 378v1M647.5 377v2M648.5 377v2M649.5 377v2M650.5 377v2M651.5 377v2M652.5 377v2M653.5 378v1M654.5 378v1M655.5 378v1M656.5 378v1M657.5 377v2M658.5 377v2M659.5 378v1M660.5 378v1M661.5 378v1M662.5 378v1M663.5 378v1M664.5 377v2M665.5 378v1M666.5 377v2M667.5 378v1M668.5 377v2M669.5 378v1M670.5 378v1M671.5 378v1M672.5 377v2M673.5 378v1M674.5 378v1M675.5 377v2M676.5 378v1M677.5 378v1M678.5 378v1M679.5 378v1M680.5 378v1M681.5 377v2M682.5 378v1M683.5 378v1" stroke="#0000ff" stroke-width="1" fill="none" shape-rendering="crispEdges"/>
<path d="M79.5 348v41M80.5 348v41M81.5 349v40M82.5 345v44M83.5 346v43M84.5 347v42M85.5 348v41M86.5 349v40M87.5 350v39M88.5 344v45M89.5 347v42M90.5 349v40M91.5 349v40M92.5 352v37M93.5 356v33M94.5 352v37M95.5 355v34M96.5 351v38M97.5 354v35M98.5 354v35M99.5 353v36M100.5 355v34M101.5 355v34M102.5 352v37M103.5 353v36M104.5 353v36M105.5 351v38M106.5 353v36M107.5 353v36M108.5 354v35M109.5 349v40M110.5 357v32M111.5 345v44M112.5 349v40M113.5 357v32M114.5 356v33M115.5 353v36M116.5 347v42M117.5 350v39M118.5 349v40M119.5 350v39M120.5 351v38M121.5 347v42M122.5 343v46M123.5 352v37M124.5 354v35M125.5 352v21M126.5 356v33M127.5 355v34M128.5 350v39M129.5 354v35M130.5 352v37M131.5 357v32M132.5 354v35M133.5 356v33M134.5 362v27M135.5 353v36M136.5 351v38M137.5 353v36M138.5 353v36M139.5 351v38M140.5 358v31M141.5 353v36M142.5 352v37M143.5 353v36M144.5 346v43M145.5 344v45M146.5 343v46M147.5 340v49M148.5 343v46M149.5 341v48M150.5 341v48M151.5 347v42M152.5 345v44M153.5 344v45M154.5 349v40M155.5 349v40M156.5 345v44M157.5 346v43M158.5 349v40M159.5 348v41M160.5 349v40M161.5 347v42M162.5 346v43M163.5 348v41M164.5 351v38M165.5 344v45M166.5 346v43M167.5 349v40M168.5 346v43M169.5 345v44M170.5 348v41M171.5 346v43M172.5 353v36M173.5 351v38M174.5 356v33M175.5 352v37M176.5 349v40M177.5 352v37M178.5 350v39M179.5 351v38M180.5 354v35M181.5 352v37M182.5 352v37M183.5 351v38M184.5 350v39M185.5 352v37M186.5 351v38M187.5 352v37M188.5 353v36M189.5 353v36M190.5 353v36M191.5 351v38M192.5 350v39M193.5 350v39M194.5 345v44M195.5 348v41M196.5 350v39M197.5 351v38M198.5 351v38M199.5 350v39M200.5 350v39M201.5 359v30M202.5 351v38M203.5 352v37M204.5 350v39M205.5 352v37M206.5 351v38M207.5 355v18M208.5 354v35M209.5 358v31M210.5 355v34M211.5 355v34M212.5 354v35M213.5 350v39M214.5 353v36M215.5 352v37M216.5 350v39M217.5 351v38M257.5 378v11M276.5 383v6M277.5 383v6M278.5 383v6M279.5 383v6M280.5 372v7M280.5 383v6M281.5 372v7M282.5 371v8M283.5 372v7M284.5 372v7M285.5 372v7M286.5 371v8M287.5 373v6M288.5 371v8M289.5 371v8M290.5 330v59M291.5 331v14M292.5 329v14M293.5 329v19M294.5 330v13M295.5 330v11M296.5 330v12M297.5 327v15M298.5 329v13M299.5 329v12M300.5 329v18M301.5 327v16M302.5 329v12M303.5 330v12M304.5 331v10M305.5 329v13M306.5 331v11M307.5 330v13M308.5 332v10M309.5 332v11M310.5 332v18M311.5 333v11M312.5 333v11M313.5 334v11M314.5 336v9M315.5 336v10M316.5 336v9M317.5 338v51M318.5 340v49M319.5 365v24M320.5 339v50M322.5 341v48M324.5 341v48M326.5 341v48M327.5 339v50M328.5 367v22M329.5 340v49M330.5 340v49M332.5 341v48M334.5 341v48M335.5 339v50M337.5 341v48M339.5 338v51M340.5 339v50M342.5 341v48M344.5 342v47M345.5 339v50M347.5 350v39M348.5 350v39M350.5 340v49M351.5 367v22M352.5 338v51M353.5 340v49M354.5 340v49M355.5 338v13M356.5 336v11M357.5 339v8M358.5 339v10M359.5 341v7M360.5 340v11M361.5 341v8M362.5 341v9M363.5 340v11M364.5 343v13M365.5 342v12M366.5 344v9M367.5 346v9M368.5 343v12M369.5 347v7M370.5 347v10M371.5 345v18M372.5 347v11M373.5 348v9M374.5 348v9M375.5 349v10M376.5 349v11M377.5 348v18M378.5 350v11M379.5 349v11M380.5 351v10M381.5 352v7M382.5 349v11M383.5 353v16M384.5 351v10M385.5 350v12M386.5 354v8M387.5 353v11M388.5 353v11M389.5 355v9M390.5 355v12M391.5 356v14M392.5 357v8M393.5 356v12M394.5 356v13M395.5 356v12M396.5 359v9M397.5 361v15M398.5 359v30M399.5 359v30M400.5 360v29M401.5 357v32M402.5 359v30M403.5 361v28M404.5 360v29M405.5 356v33M406.5 358v31M407.5 360v29M408.5 358v31M409.5 362v27M410.5 363v26M411.5 361v28M412.5 361v28M413.5 362v27M414.5 356v33M415.5 359v30M416.5 355v34M417.5 361v28M418.5 358v31M419.5 361v28M420.5 362v27M421.5 361v28M422.5 362v27M423.5 362v27M424.5 362v27M425.5 363v26M426.5 359v30M427.5 364v25M428.5 359v30M429.5 358v31M430.5 355v34M433.5 276v113M434.5 278v13M435.5 280v11M436.5 281v12M437.5 284v11M438.5 287v14M439.5 291v12M440.5 294v11M441.5 295v15M442.5 300v13M443.5 304v13M444.5 308v11M445.5 310v14M446.5 316v73M447.5 314v75M448.5 319v70M449.5 322v67M450.5 323v66M451.5 324v65M452.5 328v61M453.5 326v63M454.5 325v64M455.5 327v62M456.5 329v60M457.5 336v53M458.5 331v58M459.5 330v59M460.5 330v59M461.5 334v55M462.5 336v53M463.5 335v54M464.5 333v56M465.5 333v56M466.5 333v56M467.5 334v55M468.5 335v54M469.5 335v54M470.5 333v56M471.5 332v57M472.5 327v62M473.5 326v63M474.5 329v60M475.5 328v61M476.5 326v63M477.5 327v62M478.5 331v58M479.5 330v59M480.5 335v54M481.5 328v61M482.5 332v57M483.5 331v58M484.5 328v61M485.5 327v62M486.5 326v63M487.5 328v61M488.5 331v58M489.5 329v60M490.5 331v58M491.5 328v61M492.5 330v59M493.5 334v55M494.5 327v62M495.5 328v61M496.5 327v62M497.5 327v62M498.5 329v60M499.5 327v62M500.5 327v62M501.5 328v61M502.5 332v57M503.5 332v57M504.5 332v57M505.5 332v57M506.5 332v57M507.5 338v51M508.5 336v5M509.5 336v5M510.5 336v5M511.5 336v53M512.5 336v53M513.5 335v54M514.5 335v54M515.5 334v55M516.5 338v51M517.5 340v49M518.5 341v48M519.5 341v48M520.5 337v52M521.5 336v53M522.5 335v54M523.5 333v56M524.5 335v54M525.5 338v51M526.5 334v55M527.5 338v51M528.5 337v52M529.5 336v53M530.5 339v50M531.5 338v51M532.5 335v54M533.5 338v51M534.5 336v53M535.5 338v51M536.5 337v52M537.5 332v57M538.5 331v58M539.5 326v63M540.5 327v62M541.5 327v62M542.5 330v59M543.5 331v58M544.5 337v52M545.5 340v49M546.5 339v50M547.5 341v48M548.5 344v45M549.5 345v44M550.5 346v10M551.5 347v11M552.5 348v11M553.5 349v11M554.5 347v42M555.5 350v39M556.5 350v39M557.5 349v40M558.5 346v43M559.5 348v41M560.5 350v39M561.5 350v39M562.5 349v40M563.5 352v37M564.5 355v34M565.5 355v34M566.5 355v34M567.5 359v30M568.5 358v31M569.5 353v36M570.5 350v39M571.5 355v34M572.5 353v36M573.5 353v36M574.5 355v34M575.5 354v35M576.5 359v30M577.5 354v35M578.5 351v38M579.5 352v37M580.5 354v35M581.5 353v36M582.5 355v34M583.5 353v36M584.5 351v38M585.5 362v27M586.5 353v36M587.5 351v38M588.5 354v35M591.5 355v34M592.5 357v32M593.5 355v34M595.5 351v38M596.5 351v38M597.5 351v38M598.5 347v42M599.5 350v39M600.5 349v40M601.5 345v44M602.5 349v40M603.5 349v40M604.5 349v40M605.5 357v32M606.5 349v40M607.5 355v34M608.5 354v35M609.5 356v33M610.5 355v34M611.5 354v35M612.5 354v35M613.5 357v32M614.5 360v10M615.5 361v7M616.5 360v13M617.5 364v25M618.5 365v24M619.5 366v23M620.5 367v10M621.5 370v19M622.5 370v7M623.5 371v8M624.5 371v18M625.5 373v16M626.5 374v15M627.5 373v16M628.5 372v13M629.5 373v9M630.5 375v7M631.5 352v37M632.5 348v41M633.5 360v29M634.5 355v34M635.5 349v40M636.5 353v36M637.5 350v39M638.5 346v43M639.5 349v40M640.5 350v39M641.5 348v41M642.5 348v41M643.5 352v37M644.5 355v34M645.5 354v35M646.5 353v36M647.5 354v15M648.5 354v15M649.5 355v34M650.5 358v31M651.5 360v29M652.5 355v34M653.5 358v31M654.5 355v34M655.5 357v32M656.5 356v33M657.5 354v35M658.5 359v30M659.5 356v33M660.5 357v32M661.5 359v30M662.5 366v23M663.5 357v32M664.5 358v31M665.5 360v29M666.5 361v28M667.5 361v28M668.5 360v29M669.5 358v31M670.5 361v28M671.5 362v27M672.5 360v29M673.5 361v28M674.5 357v32M675.5 359v30M676.5 362v27M677.5 356v15M678.5 356v15M679.5 355v34M680.5 357v32M681.5 353v36M682.5 354v35M683.5 354v35M684.5 362v27" stroke="#006400" stroke-width="1" fill="none" shape-rendering="crispEdges"/>
<path d="M125.5 377v7M207.5 377v7M325.5 383v6M338.5 378v11M343.5 383v6M431.5 378v11M432.5 378v11M647.5 377v8M648.5 377v8M677.5 377v8M678.5 377v8" stroke="#0000ff" stroke-width="1" fill="none" shape-rendering="crispEdges"/>
<polyline points="79.0,263.5 217.5,263.5 217.5,381.5 275.3,381.5 288.4,378.8 317.6,343.5 353.8,343.5 398.0,307.5 433.3,307.5 445.2,277.5 505.5,277.5 511.6,270.5 546.8,270.5 553.9,263.5 683.7,263.5 688.0,274.0 693.6,285.5 702.0,298.5 716.3,312.4 730.5,322.3 747.5,330.3 758.8,335.0 781.5,342.2 804.2,347.8 826.9,351.5 855.2,355.8 895.5,360.6" fill="none" stroke="#ff0000" stroke-width="1.3" stroke-linejoin="round" />
<rect x="74" y="263" width="1" height="119" fill="#000" />
<rect x="66" y="381" width="8" height="1" fill="#000" />
<text x="63.6" y="386" font-size="14" fill="#000" font-weight="normal" font-style="italic" text-anchor="end" stroke="#000" stroke-width="0.1" textLength="8.3" lengthAdjust="spacingAndGlyphs">0</text>
<rect x="66" y="344" width="8" height="1" fill="#000" />
<text x="63.6" y="349" font-size="14" fill="#000" font-weight="normal" font-style="italic" text-anchor="end" stroke="#000" stroke-width="0.1" textLength="24.900000000000002" lengthAdjust="spacingAndGlyphs">500</text>
<rect x="66" y="307" width="8" height="1" fill="#000" />
<text x="63.6" y="312" font-size="14" fill="#000" font-weight="normal" font-style="italic" text-anchor="end" stroke="#000" stroke-width="0.1" textLength="33.2" lengthAdjust="spacingAndGlyphs">1000</text>
<rect x="66" y="270" width="8" height="1" fill="#000" />
<text x="63.6" y="275" font-size="14" fill="#000" font-weight="normal" font-style="italic" text-anchor="end" stroke="#000" stroke-width="0.1" textLength="33.2" lengthAdjust="spacingAndGlyphs">1500</text>
<rect x="69" y="362" width="5" height="1" fill="#000" />
<rect x="69" y="325" width="5" height="1" fill="#000" />
<rect x="69" y="288" width="5" height="1" fill="#000" />
<rect x="908" y="262" width="1" height="120" fill="#000" />
<rect x="909" y="381" width="8" height="1" fill="#000" />
<text x="919" y="386" font-size="14" fill="#000" font-weight="normal" font-style="italic" text-anchor="start" stroke="#000" stroke-width="0.1" textLength="8.3" lengthAdjust="spacingAndGlyphs">0</text>
<rect x="909" y="335" width="8" height="1" fill="#000" />
<text x="919" y="340" font-size="14" fill="#000" font-weight="normal" font-style="italic" text-anchor="start" stroke="#000" stroke-width="0.1" textLength="8.3" lengthAdjust="spacingAndGlyphs">2</text>
<rect x="909" y="290" width="8" height="1" fill="#000" />
<text x="919" y="295" font-size="14" fill="#000" font-weight="normal" font-style="italic" text-anchor="start" stroke="#000" stroke-width="0.1" textLength="8.3" lengthAdjust="spacingAndGlyphs">4</text>
<rect x="909" y="358" width="5" height="1" fill="#000" />
<rect x="909" y="313" width="5" height="1" fill="#000" />
<rect x="909" y="268" width="5" height="1" fill="#000" />
<rect x="87" y="394" width="808" height="1" fill="#000" />
<rect x="221" y="395" width="1" height="8" fill="#000" />
<text x="221" y="414" font-size="10.5" fill="#000" font-weight="normal" font-style="normal" text-anchor="middle" stroke="#000" stroke-width="0.25" textLength="42" lengthAdjust="spacingAndGlyphs">22:20:00</text>
<rect x="355" y="395" width="1" height="8" fill="#000" />
<text x="355" y="414" font-size="10.5" fill="#000" font-weight="normal" font-style="normal" text-anchor="middle" stroke="#000" stroke-width="0.25" textLength="42" lengthAdjust="spacingAndGlyphs">22:40:00</text>
<rect x="490" y="395" width="1" height="8" fill="#000" />
<text x="490" y="414" font-size="10.5" fill="#000" font-weight="normal" font-style="normal" text-anchor="middle" stroke="#000" stroke-width="0.25" textLength="42" lengthAdjust="spacingAndGlyphs">23:00:00</text>
<rect x="625" y="395" width="1" height="8" fill="#000" />
<text x="625" y="414" font-size="10.5" fill="#000" font-weight="normal" font-style="normal" text-anchor="middle" stroke="#000" stroke-width="0.25" textLength="42" lengthAdjust="spacingAndGlyphs">23:20:00</text>
<rect x="759" y="395" width="1" height="8" fill="#000" />
<text x="759" y="414" font-size="10.5" fill="#000" font-weight="normal" font-style="normal" text-anchor="middle" stroke="#000" stroke-width="0.25" textLength="42" lengthAdjust="spacingAndGlyphs">23:40:00</text>
<rect x="894" y="395" width="1" height="8" fill="#000" />
<text x="894" y="414" font-size="10.5" fill="#000" font-weight="normal" font-style="normal" text-anchor="middle" stroke="#000" stroke-width="0.25" textLength="42" lengthAdjust="spacingAndGlyphs">00:00:00</text>
<rect x="153" y="395" width="1" height="4" fill="#000" />
<rect x="288" y="395" width="1" height="4" fill="#000" />
<rect x="423" y="395" width="1" height="4" fill="#000" />
<rect x="557" y="395" width="1" height="4" fill="#000" />
<rect x="692" y="395" width="1" height="4" fill="#000" />
<rect x="827" y="395" width="1" height="4" fill="#000" />
<text transform="translate(936,323) rotate(90)" font-size="14" font-style="italic" text-anchor="middle" textLength="107" lengthAdjust="spacingAndGlyphs">Inj Rate(mA/sec)</text>
<text transform="translate(953,321) rotate(90)" font-size="14" font-style="italic" text-anchor="middle" textLength="75" lengthAdjust="spacingAndGlyphs">Charge(nC)</text>
<text transform="translate(21.5,321.5) rotate(-90)" font-size="14" font-style="italic" text-anchor="middle" textLength="84" lengthAdjust="spacingAndGlyphs">Current (mA)</text>
<rect x="975" y="247" width="114" height="24" fill="#d3d3d3" />
<rect x="975" y="247" width="114" height="1" fill="#fff" />
<rect x="975" y="247" width="1" height="23" fill="#fff" />
<rect x="975" y="270" width="114" height="1" fill="#828282" />
<rect x="1088" y="248" width="1" height="23" fill="#828282" />
<rect x="976" y="248" width="112" height="1" fill="#828282" />
<rect x="976" y="248" width="1" height="21" fill="#828282" />
<rect x="976" y="269" width="112" height="1" fill="#fff" />
<rect x="1087" y="249" width="1" height="21" fill="#fff" />
<text x="1032" y="264" font-size="16.8" fill="#000" font-weight="normal" font-style="italic" text-anchor="middle" stroke="#000" stroke-width="0.5" textLength="57.7" lengthAdjust="spacingAndGlyphs">CLOSE</text>
<rect x="975" y="271" width="114" height="24" fill="#fff" />
<rect x="975" y="294" width="114" height="1" fill="#e8e8e8" />
<rect x="1088" y="271" width="1" height="24" fill="#e8e8e8" />
<rect x="976" y="293" width="112" height="1" fill="#ececec" />
<rect x="1087" y="272" width="1" height="22" fill="#ececec" />
<rect x="975" y="271" width="113" height="1" fill="#8e8e8e" />
<rect x="975" y="271" width="1" height="23" fill="#8e8e8e" />
<rect x="976" y="272" width="111" height="1" fill="#a6a6a6" />
<rect x="976" y="272" width="1" height="21" fill="#a6a6a6" />
<text x="1032" y="288" font-size="16.8" fill="#000" font-weight="normal" font-style="italic" text-anchor="middle" stroke="#000" stroke-width="0.5" textLength="69.0" lengthAdjust="spacingAndGlyphs">12.500Hz</text>
<rect x="974" y="297" width="20" height="20" fill="#ff0000" />
<rect x="974" y="297" width="20" height="1" fill="#ff7f7f" />
<rect x="974" y="297" width="1" height="20" fill="#ff7f7f" />
<rect x="974" y="316" width="20" height="1" fill="#990000" />
<rect x="993" y="297" width="1" height="20" fill="#990000" />
<rect x="975" y="298" width="18" height="1" fill="#ff7f7f" />
<rect x="975" y="298" width="1" height="18" fill="#ff7f7f" />
<rect x="975" y="315" width="18" height="1" fill="#990000" />
<rect x="992" y="298" width="1" height="18" fill="#990000" />
<text x="1042.5" y="311.6" font-size="16.8" fill="#000" font-weight="normal" font-style="italic" text-anchor="middle" stroke="#000" stroke-width="0.5" textLength="75.6" lengthAdjust="spacingAndGlyphs">276.95mA</text>
<rect x="974" y="321" width="20" height="20" fill="#006400" />
<rect x="974" y="321" width="20" height="1" fill="#7fb17f" />
<rect x="974" y="321" width="1" height="20" fill="#7fb17f" />
<rect x="974" y="340" width="20" height="1" fill="#003c00" />
<rect x="993" y="321" width="1" height="20" fill="#003c00" />
<rect x="975" y="322" width="18" height="1" fill="#7fb17f" />
<rect x="975" y="322" width="1" height="18" fill="#7fb17f" />
<rect x="975" y="339" width="18" height="1" fill="#003c00" />
<rect x="992" y="322" width="1" height="18" fill="#003c00" />
<text x="1042.5" y="335.6" font-size="16.8" fill="#000" font-weight="normal" font-style="italic" text-anchor="middle" stroke="#000" stroke-width="0.5" textLength="61.2" lengthAdjust="spacingAndGlyphs">----mA/s</text>
<rect x="974" y="345" width="20" height="20" fill="#0000ff" />
<rect x="974" y="345" width="20" height="1" fill="#7f7fff" />
<rect x="974" y="345" width="1" height="20" fill="#7f7fff" />
<rect x="974" y="364" width="20" height="1" fill="#000099" />
<rect x="993" y="345" width="1" height="20" fill="#000099" />
<rect x="975" y="346" width="18" height="1" fill="#7f7fff" />
<rect x="975" y="346" width="1" height="18" fill="#7f7fff" />
<rect x="975" y="363" width="18" height="1" fill="#000099" />
<rect x="992" y="346" width="1" height="18" fill="#000099" />
<text x="1042.5" y="359.6" font-size="16.8" fill="#000" font-weight="normal" font-style="italic" text-anchor="middle" stroke="#000" stroke-width="0.5" textLength="43.2" lengthAdjust="spacingAndGlyphs">----nC</text>
<rect x="974" y="369" width="20" height="20" fill="#87ceeb" />
<rect x="974" y="369" width="20" height="1" fill="#c3ffff" />
<rect x="974" y="369" width="1" height="20" fill="#c3ffff" />
<rect x="974" y="388" width="20" height="1" fill="#517b8d" />
<rect x="993" y="369" width="1" height="20" fill="#517b8d" />
<rect x="975" y="370" width="18" height="1" fill="#c3ffff" />
<rect x="975" y="370" width="1" height="18" fill="#c3ffff" />
<rect x="975" y="387" width="18" height="1" fill="#517b8d" />
<rect x="992" y="370" width="1" height="18" fill="#517b8d" />
<text x="1042.5" y="383.6" font-size="16.8" fill="#000" font-weight="normal" font-style="italic" text-anchor="middle" stroke="#000" stroke-width="0.5" textLength="43.2" lengthAdjust="spacingAndGlyphs">----nC</text>
<rect x="0" y="433" width="1093" height="1" fill="#828282" />
<rect x="0" y="434" width="1093" height="1" fill="#fff" />
<rect x="0" y="434" width="1" height="186" fill="#fff" />
<rect x="1" y="618" width="1092" height="1" fill="#828282" />
<rect x="0" y="619" width="1093" height="1" fill="#fff" />
<rect x="1092" y="435" width="1" height="184" fill="#828282" />
<rect x="5" y="432" width="222" height="4" fill="#d9d9d9" />
<text x="11" y="438.5" font-size="18.3" fill="#ffa500" font-weight="bold" font-style="italic" text-anchor="start" >DR  (DR Kicker Trouble)</text>
<rect x="61" y="451" width="843" height="137" fill="#fff" />
<rect x="61" y="451" width="844" height="2" fill="#000" />
<rect x="61" y="451" width="2" height="138" fill="#000" />
<line x1="63" y1="474.5" x2="904" y2="474.5" stroke="#bebebe" stroke-width="1" stroke-dasharray="1 1"/>
<line x1="63" y1="495.5" x2="904" y2="495.5" stroke="#bebebe" stroke-width="1" stroke-dasharray="1 1"/>
<line x1="63" y1="516.5" x2="904" y2="516.5" stroke="#bebebe" stroke-width="1" stroke-dasharray="1 1"/>
<line x1="63" y1="537.5" x2="904" y2="537.5" stroke="#bebebe" stroke-width="1" stroke-dasharray="1 1"/>
<line x1="63" y1="558.5" x2="904" y2="558.5" stroke="#bebebe" stroke-width="1" stroke-dasharray="1 1"/>
<line x1="63" y1="579.5" x2="904" y2="579.5" stroke="#bebebe" stroke-width="1" stroke-dasharray="1 1"/>
<line x1="139.5" y1="453" x2="139.5" y2="587" stroke="#bebebe" stroke-width="1" stroke-dasharray="1 1"/>
<line x1="207.5" y1="453" x2="207.5" y2="587" stroke="#bebebe" stroke-width="1" stroke-dasharray="1 1"/>
<line x1="276.5" y1="453" x2="276.5" y2="587" stroke="#bebebe" stroke-width="1" stroke-dasharray="1 1"/>
<line x1="345.5" y1="453" x2="345.5" y2="587" stroke="#bebebe" stroke-width="1" stroke-dasharray="1 1"/>
<line x1="413.5" y1="453" x2="413.5" y2="587" stroke="#bebebe" stroke-width="1" stroke-dasharray="1 1"/>
<line x1="482.5" y1="453" x2="482.5" y2="587" stroke="#bebebe" stroke-width="1" stroke-dasharray="1 1"/>
<line x1="551.5" y1="453" x2="551.5" y2="587" stroke="#bebebe" stroke-width="1" stroke-dasharray="1 1"/>
<line x1="619.5" y1="453" x2="619.5" y2="587" stroke="#bebebe" stroke-width="1" stroke-dasharray="1 1"/>
<line x1="688.5" y1="453" x2="688.5" y2="587" stroke="#bebebe" stroke-width="1" stroke-dasharray="1 1"/>
<line x1="757.5" y1="453" x2="757.5" y2="587" stroke="#bebebe" stroke-width="1" stroke-dasharray="1 1"/>
<line x1="825.5" y1="453" x2="825.5" y2="587" stroke="#bebebe" stroke-width="1" stroke-dasharray="1 1"/>
<line x1="894.5" y1="453" x2="894.5" y2="587" stroke="#bebebe" stroke-width="1" stroke-dasharray="1 1"/>
<path d="M245.5 495v82M246.5 488v89M247.5 495v82M248.5 496v81M249.5 484v93M250.5 493v84M251.5 483v94M252.5 495v82M253.5 483v94M254.5 485v92M255.5 482v95M256.5 482v95M257.5 494v83M258.5 481v96M259.5 490v87M260.5 480v97M261.5 486v91M262.5 488v89M269.5 492v85M270.5 493v84M271.5 492v85M272.5 489v88M273.5 492v85M274.5 492v85M275.5 488v89M276.5 492v85M277.5 492v85M279.5 476v101M280.5 476v101M281.5 477v100M282.5 474v103M283.5 477v100M284.5 475v102M285.5 475v102M286.5 477v100M287.5 476v101M288.5 475v102M289.5 478v99M290.5 476v101M291.5 475v102M292.5 475v102M293.5 477v100M294.5 475v102M295.5 476v101M296.5 477v100M297.5 476v101M298.5 477v100M299.5 476v101M300.5 476v101M301.5 477v100M302.5 477v100M303.5 477v100M304.5 478v99M345.5 477v100M346.5 480v97M347.5 478v99M348.5 480v97M349.5 476v101M350.5 479v98M351.5 477v100M352.5 476v101M353.5 479v98M354.5 477v100M355.5 480v97M356.5 478v99M357.5 476v101M358.5 480v97M359.5 479v98M360.5 478v99M361.5 479v98M362.5 478v99M363.5 476v101M364.5 478v99M365.5 477v100M366.5 476v101M367.5 478v99M368.5 479v98M369.5 478v99M370.5 479v98M371.5 479v98M372.5 479v98M373.5 476v101M374.5 478v99M375.5 477v100M376.5 478v99M377.5 480v97M378.5 478v99M379.5 478v99M380.5 477v100M381.5 477v100M382.5 478v99M383.5 477v100M384.5 479v98M385.5 479v98M386.5 480v97M387.5 477v100M424.5 472v20M425.5 472v20M426.5 472v22M427.5 472v17M428.5 472v106M429.5 472v14M430.5 472v14M431.5 472v20M432.5 472v106M433.5 472v13M434.5 472v15M435.5 472v22M499.5 472v13M500.5 472v12M501.5 472v13M502.5 472v106M503.5 472v13M540.5 471v21M541.5 471v18M542.5 471v24M543.5 471v20M544.5 471v107M545.5 471v16M546.5 471v107M547.5 471v16M612.5 474v104M613.5 474v18M614.5 474v104M615.5 474v16M616.5 474v104M617.5 474v17M618.5 474v104M619.5 474v14M622.5 474v104M623.5 474v13M624.5 474v104M625.5 474v16M626.5 474v104" stroke="#87ceeb" stroke-width="1" fill="none" shape-rendering="crispEdges"/>
<path d="M63.5 466v114M64.5 466v114M65.5 466v114M66.5 467v113M67.5 467v113M68.5 466v114M69.5 467v113M70.5 466v114M71.5 466v114M72.5 467v113M73.5 467v113M74.5 468v112M75.5 466v114M76.5 467v113M77.5 467v113M78.5 467v113M79.5 467v113M80.5 466v114M81.5 466v114M82.5 468v112M83.5 466v114M84.5 467v113M85.5 468v112M86.5 466v114M87.5 468v112M88.5 467v113M89.5 467v113M90.5 466v114M91.5 466v114M92.5 468v112M93.5 466v114M94.5 467v113M95.5 468v112M96.5 467v113M97.5 466v114M98.5 467v113M99.5 467v113M100.5 468v112M101.5 466v114M102.5 467v113M103.5 468v112M104.5 467v113M105.5 467v113M106.5 467v113M107.5 467v113M108.5 466v114M109.5 466v114M110.5 467v113M111.5 467v113M112.5 467v113M113.5 467v113M114.5 467v113M115.5 466v114M116.5 466v114M117.5 466v114M118.5 466v114M119.5 467v113M120.5 466v114M121.5 467v113M122.5 466v114M123.5 467v113M124.5 468v112M125.5 467v113M126.5 468v112M127.5 466v114M128.5 467v113M129.5 467v113M130.5 467v113M131.5 467v113M132.5 467v113M133.5 468v112M134.5 467v113M135.5 466v114M136.5 467v113M137.5 468v112M138.5 466v114M139.5 466v114M140.5 468v112M141.5 466v114M142.5 468v112M143.5 466v114M144.5 467v113M145.5 466v114M146.5 468v112M147.5 466v114M148.5 466v114M149.5 467v113M150.5 467v113M151.5 466v114M152.5 467v113M153.5 466v114M154.5 466v114M155.5 467v113M156.5 467v113M157.5 466v114M158.5 466v114M159.5 466v114M160.5 468v112M161.5 466v114M162.5 467v113M163.5 467v113M164.5 468v112M165.5 466v114M166.5 467v113M167.5 468v112M168.5 467v113M169.5 467v113M170.5 467v113M171.5 466v114M172.5 466v114M173.5 466v114M174.5 466v114M175.5 467v113M176.5 466v114M177.5 467v113M178.5 466v114M179.5 468v112M180.5 468v112M181.5 466v114M182.5 466v114M183.5 466v114M184.5 467v113M185.5 467v113M186.5 466v114M187.5 466v114M188.5 467v113M189.5 466v114M190.5 468v112M191.5 468v112M192.5 466v114M193.5 468v112M194.5 467v113M195.5 467v113M196.5 468v112M197.5 467v113M198.5 467v113M199.5 466v114M200.5 467v113M201.5 467v113M202.5 466v114M203.5 466v114M204.5 467v113M245.5 461v35M246.5 461v28M247.5 461v35M248.5 462v35M249.5 461v24M250.5 461v33M251.5 461v23M252.5 462v34M253.5 461v23M254.5 460v26M255.5 461v22M256.5 462v21M257.5 462v33M258.5 460v22M259.5 462v29M260.5 462v19M261.5 460v27M262.5 461v28M265.5 540v36M267.5 462v118M268.5 462v118M269.5 463v30M270.5 463v31M271.5 463v30M272.5 463v27M273.5 462v31M274.5 463v30M275.5 463v26M276.5 462v31M277.5 462v31M278.5 463v117M279.5 462v15M280.5 463v14M281.5 462v16M282.5 462v13M283.5 461v17M284.5 463v13M285.5 462v14M286.5 462v16M287.5 463v14M288.5 463v13M289.5 461v18M290.5 462v15M291.5 462v14M292.5 462v14M293.5 462v16M294.5 462v14M295.5 461v16M296.5 462v16M297.5 462v15M298.5 462v16M299.5 462v15M300.5 462v15M301.5 463v15M302.5 462v16M303.5 461v17M304.5 461v18M305.5 464v116M306.5 463v117M307.5 465v115M308.5 463v117M309.5 464v116M310.5 463v117M311.5 463v117M312.5 464v116M313.5 463v117M314.5 463v117M315.5 465v115M316.5 463v117M317.5 464v116M318.5 464v116M319.5 464v116M320.5 464v116M321.5 463v117M322.5 464v116M323.5 463v117M324.5 465v115M325.5 463v117M326.5 465v115M327.5 463v117M328.5 464v116M329.5 464v116M330.5 463v117M331.5 464v116M332.5 463v117M333.5 464v116M334.5 464v116M335.5 465v115M336.5 464v116M337.5 464v116M338.5 464v116M339.5 464v116M340.5 463v117M341.5 463v117M342.5 463v117M343.5 463v117M344.5 464v116M345.5 464v14M346.5 464v17M347.5 465v14M348.5 464v17M349.5 463v14M350.5 464v16M351.5 465v13M352.5 464v13M353.5 464v16M354.5 464v14M355.5 464v17M356.5 464v15M357.5 465v12M358.5 464v17M359.5 463v17M360.5 465v14M361.5 464v16M362.5 464v15M363.5 464v13M364.5 464v15M365.5 465v13M366.5 463v14M367.5 464v15M368.5 465v15M369.5 463v16M370.5 465v15M371.5 463v17M372.5 464v16M373.5 464v13M374.5 464v15M375.5 464v14M376.5 464v15M377.5 465v16M378.5 464v15M379.5 464v15M380.5 464v14M381.5 463v15M382.5 465v14M383.5 464v14M384.5 464v16M385.5 463v17M386.5 463v18M387.5 464v14M388.5 462v118M389.5 462v118M390.5 462v118M391.5 463v117M392.5 462v118M393.5 463v117M394.5 464v116M395.5 463v117M396.5 463v117M397.5 462v118M398.5 462v118M399.5 464v116M400.5 464v116M401.5 463v117M402.5 463v117M403.5 463v117M404.5 463v117M405.5 464v116M406.5 463v117M407.5 462v118M408.5 463v117M409.5 463v117M410.5 462v118M411.5 462v118M412.5 462v118M413.5 464v116M414.5 462v118M415.5 462v118M416.5 463v117M417.5 463v117M418.5 462v118M419.5 463v117M420.5 463v117M421.5 462v118M422.5 463v117M423.5 464v116M424.5 463v117M436.5 466v114M437.5 466v114M438.5 467v113M439.5 466v114M440.5 466v114M441.5 466v114M442.5 466v114M443.5 466v114M444.5 467v113M445.5 467v113M446.5 467v113M447.5 466v114M448.5 468v112M449.5 466v114M450.5 466v114M451.5 466v114M452.5 468v112M453.5 468v112M454.5 468v112M455.5 467v113M456.5 466v114M457.5 466v114M458.5 468v112M459.5 467v113M460.5 467v113M461.5 468v112M462.5 467v113M463.5 466v114M464.5 468v112M465.5 467v113M466.5 466v114M467.5 467v113M468.5 468v112M469.5 467v113M470.5 467v113M471.5 467v113M472.5 467v113M473.5 468v112M474.5 466v114M475.5 466v114M476.5 466v114M477.5 467v113M478.5 466v114M479.5 467v113M480.5 467v113M481.5 466v114M482.5 468v112M483.5 467v113M484.5 466v114M485.5 467v113M486.5 467v113M487.5 467v113M488.5 466v114M489.5 466v114M490.5 467v113M491.5 468v112M492.5 467v113M493.5 466v114M494.5 466v114M495.5 468v112M496.5 466v114M497.5 468v112M498.5 468v112M504.5 466v114M505.5 466v114M506.5 468v112M507.5 466v114M508.5 467v113M509.5 466v114M510.5 466v114M511.5 466v114M512.5 467v113M513.5 466v114M514.5 468v112M515.5 466v114M516.5 467v113M517.5 466v114M518.5 468v112M519.5 466v114M520.5 467v113M521.5 467v113M522.5 468v112M523.5 467v113M524.5 467v113M525.5 467v113M526.5 466v114M527.5 467v113M528.5 466v114M529.5 466v114M530.5 467v113M531.5 466v114M532.5 467v113M533.5 467v113M534.5 466v114M535.5 468v112M536.5 468v112M537.5 467v113M538.5 466v114M539.5 467v113M548.5 467v113M549.5 467v113M550.5 466v114M551.5 466v114M552.5 466v114M553.5 465v115M554.5 465v115M555.5 466v114M556.5 465v115M557.5 465v115M558.5 466v114M559.5 466v114M560.5 465v115M561.5 467v113M562.5 467v113M563.5 467v113M564.5 466v114M565.5 465v115M566.5 465v115M567.5 465v115M568.5 466v114M569.5 465v115M570.5 466v114M571.5 465v115M572.5 465v115M573.5 465v115M574.5 465v115M575.5 466v114M576.5 467v113M577.5 467v113M578.5 465v115M579.5 465v115M580.5 465v115M581.5 465v115M582.5 466v114M583.5 466v114M584.5 466v114M585.5 465v115M586.5 465v115M587.5 467v113M588.5 466v114M589.5 465v115M590.5 466v114M591.5 465v115M592.5 465v115M593.5 467v113M594.5 467v113M595.5 466v114M596.5 465v115M597.5 466v114M598.5 467v113M599.5 465v115M600.5 466v114M601.5 466v114M602.5 465v115M603.5 465v115M604.5 467v113M605.5 467v113M606.5 466v114M607.5 467v10M608.5 467v113M609.5 467v7M610.5 467v10M611.5 467v7M612.5 466v8M613.5 467v7M614.5 467v7M615.5 466v8M616.5 467v7M617.5 467v7M618.5 466v8M619.5 467v7M620.5 467v61M621.5 467v113M622.5 466v8M623.5 466v8M624.5 467v7M625.5 466v8M626.5 466v8M627.5 466v114M628.5 467v113M629.5 467v113M630.5 467v113M631.5 466v114M632.5 467v113M633.5 466v114M634.5 467v113M635.5 468v112M636.5 466v114M637.5 466v114M638.5 466v114M639.5 467v113M640.5 468v112M641.5 467v113M642.5 467v113M643.5 468v112M644.5 468v112M645.5 468v112M646.5 467v113M647.5 466v114M648.5 466v114M649.5 466v114M650.5 466v114M651.5 466v114M652.5 466v114M653.5 467v113M654.5 467v113M655.5 466v114M656.5 467v113M657.5 468v112M658.5 467v113M659.5 468v112M660.5 466v114M661.5 466v114M662.5 467v113M663.5 468v112M664.5 466v114M665.5 467v113M666.5 466v114M667.5 468v112M668.5 466v114M669.5 466v114M670.5 468v112M671.5 467v113M672.5 467v113M673.5 466v114M674.5 467v113M675.5 466v114M676.5 468v112M677.5 468v112M678.5 467v113M679.5 466v114" stroke="#ff0000" stroke-width="1" fill="none" shape-rendering="crispEdges"/>
<path d="M108.5 556v31M109.5 580v7M110.5 580v7M159.5 529v58M160.5 580v7M163.5 580v7M164.5 580v7M167.5 580v7M168.5 580v7M189.5 557v30M190.5 580v7M246.5 523v54M249.5 510v67M252.5 497v80M255.5 495v82M258.5 497v80M261.5 496v81M270.5 529v48M273.5 528v49M275.5 543v34M280.5 493v84M282.5 529v48M284.5 520v57M286.5 522v55M288.5 491v86M290.5 487v90M293.5 491v86M295.5 487v90M298.5 483v94M300.5 491v86M302.5 489v88M304.5 478v99M307.5 463v105M307.5 580v7M308.5 580v7M309.5 466v110M309.5 580v7M311.5 463v116M311.5 580v7M312.5 580v7M313.5 580v7M315.5 466v48M315.5 580v7M320.5 465v54M320.5 580v7M328.5 580v7M331.5 580v7M332.5 580v7M333.5 466v111M338.5 580v7M340.5 466v109M340.5 580v7M344.5 580v7M346.5 528v49M349.5 529v48M352.5 528v49M354.5 501v76M356.5 481v96M358.5 480v97M360.5 486v91M362.5 482v95M364.5 486v91M367.5 482v95M370.5 521v56M373.5 526v51M375.5 513v64M378.5 495v82M380.5 493v84M382.5 485v92M384.5 509v68M386.5 516v61M552.5 580v7M553.5 559v28M557.5 580v7M561.5 580v7M562.5 580v7M565.5 580v7M566.5 580v7M567.5 580v7M575.5 494v93M578.5 496v91M579.5 580v7M581.5 499v88M588.5 498v89M589.5 580v7M590.5 580v7M591.5 580v7M594.5 580v7M596.5 580v7M599.5 580v7M600.5 580v7M602.5 580v7M603.5 580v7M604.5 580v7M606.5 580v7M607.5 580v7M609.5 476v111M611.5 580v7M612.5 580v7M613.5 580v7M614.5 580v7M615.5 580v7M616.5 580v7M617.5 580v7M618.5 580v7M619.5 580v7M620.5 580v7M622.5 580v7M623.5 580v7M624.5 580v7M625.5 580v7M626.5 580v7M628.5 580v7M633.5 580v7M634.5 580v7M638.5 580v7M640.5 580v7M641.5 500v80M642.5 580v7M643.5 473v114M644.5 580v7M645.5 473v114M646.5 580v7M648.5 580v7M649.5 580v7M650.5 580v7M655.5 555v32M658.5 580v7M660.5 474v113M661.5 580v7M662.5 580v7M663.5 580v7M665.5 474v113M667.5 580v7M668.5 475v112M669.5 580v7M670.5 475v112M673.5 475v112M676.5 580v7M677.5 555v32M679.5 580v7" stroke="#ffffff" stroke-width="1" fill="none" shape-rendering="crispEdges"/>
<path d="M63.5 580v7M64.5 466v4M64.5 580v7M65.5 580v7M66.5 465v2M66.5 553v34M67.5 466v3M67.5 580v7M68.5 465v4M68.5 580v7M69.5 580v7M70.5 464v2M70.5 580v7M71.5 554v33M72.5 466v3M72.5 580v7M73.5 580v7M74.5 465v2M74.5 580v7M75.5 466v2M75.5 580v7M76.5 580v7M77.5 555v32M78.5 466v4M78.5 580v7M79.5 466v4M79.5 580v7M80.5 580v7M81.5 580v7M82.5 580v7M83.5 526v61M84.5 580v7M85.5 580v7M86.5 580v7M87.5 464v1M87.5 525v62M88.5 580v7M89.5 464v3M89.5 580v7M90.5 466v3M90.5 580v7M91.5 464v3M91.5 580v7M92.5 465v4M92.5 580v7M93.5 580v7M94.5 464v4M94.5 555v32M95.5 465v3M95.5 580v7M96.5 580v7M97.5 580v7M98.5 465v3M98.5 580v7M99.5 466v4M99.5 580v7M100.5 465v3M100.5 580v7M101.5 580v7M102.5 580v7M103.5 465v1M103.5 580v7M104.5 580v7M105.5 465v1M105.5 580v7M106.5 465v4M106.5 580v7M107.5 580v7M110.5 574v13M111.5 580v7M112.5 465v2M112.5 580v7M113.5 580v7M114.5 466v1M114.5 558v29M115.5 580v7M116.5 465v2M116.5 580v7M117.5 466v1M117.5 580v7M118.5 553v34M119.5 580v7M120.5 465v1M120.5 580v7M121.5 580v7M122.5 580v7M123.5 464v1M123.5 580v7M124.5 580v7M125.5 580v7M126.5 465v2M126.5 580v7M127.5 580v7M128.5 580v7M129.5 465v3M129.5 580v7M130.5 580v7M131.5 466v1M131.5 580v7M132.5 464v3M132.5 580v7M133.5 555v32M134.5 580v7M135.5 466v4M135.5 580v7M136.5 465v1M136.5 580v7M137.5 580v7M138.5 580v7M139.5 465v3M139.5 580v7M140.5 466v1M140.5 580v7M141.5 465v1M141.5 580v7M142.5 464v4M142.5 580v7M143.5 465v4M143.5 580v7M144.5 580v7M145.5 465v1M145.5 520v67M146.5 580v7M147.5 465v2M147.5 580v7M148.5 466v1M148.5 580v7M149.5 466v1M149.5 580v7M150.5 464v1M150.5 580v7M151.5 464v1M151.5 580v7M152.5 580v7M153.5 466v2M153.5 580v7M154.5 465v3M154.5 580v7M155.5 580v7M156.5 465v3M156.5 580v7M157.5 464v3M157.5 580v7M158.5 580v7M159.5 466v1M161.5 466v2M161.5 524v63M162.5 580v7M163.5 465v2M164.5 464v3M165.5 464v2M165.5 580v7M166.5 580v7M168.5 464v4M169.5 580v7M170.5 580v7M171.5 580v7M172.5 465v3M172.5 580v7M173.5 464v3M173.5 580v7M174.5 580v7M175.5 580v7M176.5 464v3M176.5 580v7M177.5 522v65M178.5 465v1M178.5 580v7M179.5 580v7M180.5 465v4M180.5 580v7M181.5 580v7M182.5 553v34M183.5 466v2M183.5 580v7M184.5 580v7M185.5 580v7M186.5 465v3M186.5 580v7M187.5 466v2M187.5 580v7M188.5 580v7M189.5 466v3M191.5 580v7M192.5 465v2M192.5 555v32M193.5 465v4M193.5 580v7M194.5 580v7M195.5 573v14M196.5 580v7M197.5 580v7M198.5 466v3M198.5 580v7M199.5 465v2M199.5 580v7M200.5 465v3M200.5 523v64M201.5 580v7M202.5 464v3M202.5 580v7M203.5 580v7M204.5 528v59M244.5 470v118M259.5 464v34M263.5 467v121M264.5 467v121M265.5 467v121M266.5 467v121M267.5 580v7M268.5 580v7M271.5 468v26M274.5 468v26M277.5 468v26M278.5 580v7M305.5 462v2M305.5 521v66M306.5 580v7M310.5 580v7M311.5 462v3M312.5 461v3M312.5 465v37M314.5 463v1M314.5 580v7M316.5 580v7M317.5 463v3M317.5 580v7M318.5 461v2M318.5 580v7M319.5 580v7M320.5 463v2M321.5 580v7M322.5 473v89M322.5 580v7M323.5 580v7M324.5 462v1M324.5 580v7M325.5 580v7M326.5 461v2M326.5 580v7M327.5 467v92M327.5 580v7M328.5 461v1M329.5 463v1M329.5 580v7M330.5 461v3M330.5 580v7M331.5 462v2M332.5 462v2M333.5 580v7M334.5 580v7M335.5 462v2M335.5 580v7M336.5 580v7M337.5 462v1M337.5 580v7M339.5 461v3M339.5 580v7M341.5 461v1M341.5 580v7M342.5 463v1M342.5 580v7M343.5 580v7M344.5 463v2M388.5 580v7M389.5 461v1M389.5 580v7M390.5 462v2M390.5 580v7M391.5 512v75M392.5 461v1M392.5 580v7M393.5 461v1M393.5 580v7M394.5 460v3M394.5 580v7M395.5 462v3M395.5 580v7M396.5 460v3M396.5 580v7M397.5 580v7M398.5 580v7M399.5 461v3M399.5 571v16M400.5 580v7M401.5 580v7M402.5 460v1M402.5 572v15M403.5 580v7M404.5 462v2M404.5 580v7M405.5 513v74M406.5 461v4M406.5 580v7M407.5 461v3M407.5 580v7M408.5 461v3M408.5 580v7M409.5 580v7M410.5 580v7M411.5 462v3M411.5 580v7M412.5 561v26M413.5 580v7M414.5 460v3M414.5 580v7M415.5 461v1M415.5 580v7M416.5 580v7M417.5 462v3M417.5 580v7M418.5 461v2M418.5 580v7M419.5 580v7M420.5 461v2M420.5 580v7M421.5 580v7M422.5 580v7M423.5 461v3M423.5 580v7M424.5 460v3M424.5 465v6M424.5 580v7M425.5 464v7M426.5 465v6M427.5 464v7M428.5 466v6M429.5 464v7M430.5 466v5M431.5 464v7M432.5 466v6M433.5 465v7M434.5 464v7M435.5 464v7M436.5 465v4M436.5 519v68M437.5 464v3M437.5 580v7M438.5 464v2M438.5 580v7M439.5 465v2M439.5 580v7M440.5 464v2M440.5 580v7M441.5 580v7M442.5 580v7M443.5 466v1M443.5 580v7M444.5 465v4M444.5 580v7M445.5 580v7M446.5 465v3M446.5 580v7M447.5 466v2M447.5 580v7M448.5 465v2M448.5 580v7M449.5 465v2M449.5 580v7M450.5 580v7M451.5 465v1M451.5 580v7M452.5 464v3M452.5 580v7M453.5 580v7M454.5 580v7M455.5 466v2M455.5 580v7M456.5 580v7M457.5 465v2M457.5 580v7M458.5 465v2M458.5 580v7M459.5 580v7M460.5 464v4M460.5 580v7M461.5 465v2M461.5 580v7M462.5 465v3M462.5 580v7M463.5 465v4M463.5 580v7M464.5 464v1M464.5 580v7M465.5 465v1M465.5 580v7M466.5 580v7M467.5 464v2M467.5 580v7M468.5 466v1M468.5 580v7M469.5 580v7M470.5 580v7M471.5 465v4M471.5 580v7M472.5 465v1M472.5 580v7M473.5 465v2M473.5 580v7M474.5 464v2M474.5 580v7M475.5 466v2M475.5 580v7M476.5 465v4M476.5 580v7M477.5 580v7M478.5 464v4M478.5 580v7M479.5 465v2M479.5 580v7M480.5 580v7M481.5 580v7M482.5 580v7M483.5 465v3M483.5 580v7M484.5 465v3M484.5 580v7M485.5 465v4M485.5 580v7M486.5 580v7M487.5 464v1M487.5 580v7M488.5 465v1M488.5 580v7M489.5 466v1M489.5 580v7M490.5 580v7M491.5 465v2M491.5 580v7M492.5 580v7M493.5 580v7M494.5 580v7M495.5 464v2M495.5 580v7M496.5 580v7M497.5 465v3M497.5 580v7M498.5 465v2M498.5 554v33M499.5 464v7M500.5 466v6M501.5 464v7M502.5 464v8M503.5 464v7M504.5 464v3M504.5 580v7M505.5 580v7M506.5 465v2M506.5 580v7M507.5 580v7M508.5 466v1M508.5 580v7M509.5 466v2M509.5 580v7M510.5 465v2M510.5 580v7M511.5 580v7M512.5 580v7M513.5 466v2M513.5 580v7M514.5 466v2M514.5 580v7M515.5 580v7M516.5 580v7M517.5 580v7M518.5 466v4M518.5 580v7M519.5 580v7M520.5 464v4M520.5 580v7M521.5 465v2M521.5 580v7M522.5 580v7M523.5 466v2M523.5 580v7M524.5 580v7M525.5 580v7M526.5 580v7M527.5 580v7M528.5 580v7M529.5 465v2M529.5 580v7M530.5 580v7M531.5 580v7M532.5 464v4M532.5 580v7M533.5 580v7M534.5 580v7M535.5 580v7M536.5 580v7M537.5 466v2M537.5 580v7M538.5 465v3M538.5 580v7M539.5 465v2M539.5 580v7M540.5 466v5M541.5 466v5M542.5 465v7M543.5 466v5M544.5 466v5M545.5 464v8M546.5 465v7M547.5 465v6M548.5 465v4M548.5 580v7M549.5 464v1M549.5 580v7M550.5 464v2M550.5 469v118M551.5 463v3M551.5 580v7M552.5 464v2M553.5 464v2M554.5 580v7M555.5 580v7M556.5 464v1M556.5 580v7M558.5 580v7M559.5 580v7M560.5 465v2M560.5 580v7M561.5 465v3M563.5 465v2M563.5 580v7M564.5 465v2M564.5 580v7M565.5 465v1M567.5 464v2M567.5 525v62M568.5 464v2M568.5 580v7M569.5 463v3M569.5 580v7M570.5 580v7M571.5 464v4M571.5 580v7M572.5 463v4M572.5 580v7M573.5 580v7M574.5 463v4M574.5 580v7M576.5 580v7M577.5 464v1M577.5 580v7M578.5 465v2M579.5 464v2M580.5 464v3M580.5 580v7M582.5 580v7M583.5 472v115M584.5 463v2M584.5 580v7M585.5 465v3M585.5 580v7M586.5 463v4M586.5 580v7M587.5 463v1M587.5 580v7M588.5 464v2M589.5 464v4M591.5 465v2M592.5 465v4M592.5 580v7M593.5 464v3M593.5 580v7M594.5 464v2M595.5 464v1M595.5 559v28M596.5 465v2M597.5 463v3M597.5 580v7M598.5 465v1M598.5 580v7M599.5 464v2M600.5 464v2M601.5 580v7M602.5 463v1M602.5 552v35M603.5 464v3M605.5 464v1M605.5 528v59M606.5 463v3M607.5 477v110M610.5 477v110M611.5 475v112M613.5 465v2M615.5 464v3M616.5 464v3M620.5 477v110M621.5 528v59M624.5 465v2M627.5 466v1M627.5 523v64M629.5 580v7M630.5 465v4M630.5 580v7M631.5 466v2M631.5 580v7M632.5 580v7M633.5 465v3M633.5 553v34M634.5 465v2M635.5 465v4M635.5 580v7M636.5 580v7M637.5 465v1M637.5 580v7M639.5 466v4M639.5 528v59M640.5 466v1M641.5 580v7M642.5 466v2M643.5 465v2M644.5 466v1M646.5 466v4M647.5 464v4M647.5 473v114M651.5 464v1M651.5 580v7M652.5 471v116M653.5 465v3M653.5 580v7M654.5 580v7M655.5 466v3M656.5 580v7M657.5 526v61M658.5 465v2M659.5 464v2M659.5 580v7M660.5 466v2M661.5 470v117M662.5 464v2M663.5 465v4M664.5 580v7M665.5 465v2M666.5 471v116M667.5 465v2M668.5 465v2M671.5 464v4M671.5 469v118M672.5 465v4M672.5 580v7M673.5 465v2M674.5 580v7M675.5 466v2M675.5 523v64M676.5 464v4M677.5 465v2M678.5 580v7M679.5 464v2M679.5 523v64" stroke="#0000ff" stroke-width="1" fill="none" shape-rendering="crispEdges"/>
<polyline points="204.5,579.5 204.5,462.5 207.0,462.0 209.0,467.0 209.5,522.5 211.0,522.5 211.5,579.5 244.5,579.5 244.5,461.0" fill="none" stroke="#ff0000" stroke-width="1.3" stroke-linejoin="round" />
<polyline points="679.3,522.1 690.0,527.1 700.0,530.2 719.4,535.1 740.0,540.5 759.0,545.0 780.0,548.8 798.7,551.7 820.0,554.0 838.3,555.7 865.0,557.5 895.7,558.9" fill="none" stroke="#ff0000" stroke-width="1.3" stroke-linejoin="round" />
<rect x="58" y="460" width="1" height="120" fill="#000" />
<rect x="50" y="579" width="8" height="1" fill="#000" />
<text x="47.6" y="584" font-size="14" fill="#000" font-weight="normal" font-style="italic" text-anchor="end" stroke="#000" stroke-width="0.1" textLength="8.3" lengthAdjust="spacingAndGlyphs">0</text>
<rect x="50" y="537" width="8" height="1" fill="#000" />
<text x="47.6" y="542" font-size="14" fill="#000" font-weight="normal" font-style="italic" text-anchor="end" stroke="#000" stroke-width="0.1" textLength="16.6" lengthAdjust="spacingAndGlyphs">10</text>
<rect x="50" y="495" width="8" height="1" fill="#000" />
<text x="47.6" y="500" font-size="14" fill="#000" font-weight="normal" font-style="italic" text-anchor="end" stroke="#000" stroke-width="0.1" textLength="16.6" lengthAdjust="spacingAndGlyphs">20</text>
<rect x="53" y="558" width="5" height="1" fill="#000" />
<rect x="53" y="516" width="5" height="1" fill="#000" />
<rect x="53" y="474" width="5" height="1" fill="#000" />
<rect x="908" y="460" width="1" height="120" fill="#000" />
<rect x="909" y="579" width="8" height="1" fill="#000" />
<text x="919" y="584" font-size="14" fill="#000" font-weight="normal" font-style="italic" text-anchor="start" stroke="#000" stroke-width="0.1" textLength="8.3" lengthAdjust="spacingAndGlyphs">0</text>
<rect x="909" y="543" width="8" height="1" fill="#000" />
<text x="919" y="548" font-size="14" fill="#000" font-weight="normal" font-style="italic" text-anchor="start" stroke="#000" stroke-width="0.1" textLength="8.3" lengthAdjust="spacingAndGlyphs">1</text>
<rect x="909" y="508" width="8" height="1" fill="#000" />
<text x="919" y="513" font-size="14" fill="#000" font-weight="normal" font-style="italic" text-anchor="start" stroke="#000" stroke-width="0.1" textLength="8.3" lengthAdjust="spacingAndGlyphs">2</text>
<rect x="909" y="473" width="8" height="1" fill="#000" />
<text x="919" y="478" font-size="14" fill="#000" font-weight="normal" font-style="italic" text-anchor="start" stroke="#000" stroke-width="0.1" textLength="8.3" lengthAdjust="spacingAndGlyphs">3</text>
<rect x="909" y="561" width="5" height="1" fill="#000" />
<rect x="909" y="526" width="5" height="1" fill="#000" />
<rect x="909" y="491" width="5" height="1" fill="#000" />
<rect x="71" y="592" width="824" height="1" fill="#000" />
<rect x="207" y="593" width="1" height="8" fill="#000" />
<text x="207" y="612" font-size="10.5" fill="#000" font-weight="normal" font-style="normal" text-anchor="middle" stroke="#000" stroke-width="0.25" textLength="42" lengthAdjust="spacingAndGlyphs">22:20:00</text>
<rect x="345" y="593" width="1" height="8" fill="#000" />
<text x="345" y="612" font-size="10.5" fill="#000" font-weight="normal" font-style="normal" text-anchor="middle" stroke="#000" stroke-width="0.25" textLength="42" lengthAdjust="spacingAndGlyphs">22:40:00</text>
<rect x="482" y="593" width="1" height="8" fill="#000" />
<text x="482" y="612" font-size="10.5" fill="#000" font-weight="normal" font-style="normal" text-anchor="middle" stroke="#000" stroke-width="0.25" textLength="42" lengthAdjust="spacingAndGlyphs">23:00:00</text>
<rect x="619" y="593" width="1" height="8" fill="#000" />
<text x="619" y="612" font-size="10.5" fill="#000" font-weight="normal" font-style="normal" text-anchor="middle" stroke="#000" stroke-width="0.25" textLength="42" lengthAdjust="spacingAndGlyphs">23:20:00</text>
<rect x="757" y="593" width="1" height="8" fill="#000" />
<text x="757" y="612" font-size="10.5" fill="#000" font-weight="normal" font-style="normal" text-anchor="middle" stroke="#000" stroke-width="0.25" textLength="42" lengthAdjust="spacingAndGlyphs">23:40:00</text>
<rect x="894" y="593" width="1" height="8" fill="#000" />
<text x="894" y="612" font-size="10.5" fill="#000" font-weight="normal" font-style="normal" text-anchor="middle" stroke="#000" stroke-width="0.25" textLength="42" lengthAdjust="spacingAndGlyphs">00:00:00</text>
<rect x="139" y="593" width="1" height="4" fill="#000" />
<rect x="276" y="593" width="1" height="4" fill="#000" />
<rect x="413" y="593" width="1" height="4" fill="#000" />
<rect x="551" y="593" width="1" height="4" fill="#000" />
<rect x="688" y="593" width="1" height="4" fill="#000" />
<rect x="825" y="593" width="1" height="4" fill="#000" />
<text transform="translate(936,519) rotate(90)" font-size="14" font-style="italic" text-anchor="middle" textLength="107" lengthAdjust="spacingAndGlyphs">Inj Rate(mA/sec)</text>
<text transform="translate(953,518) rotate(90)" font-size="14" font-style="italic" text-anchor="middle" textLength="75" lengthAdjust="spacingAndGlyphs">Charge(nC)</text>
<text transform="translate(21.5,519.5) rotate(-90)" font-size="14" font-style="italic" text-anchor="middle" textLength="84" lengthAdjust="spacingAndGlyphs">Current (mA)</text>
<rect x="975" y="445" width="114" height="24" fill="#d3d3d3" />
<rect x="975" y="445" width="114" height="1" fill="#fff" />
<rect x="975" y="445" width="1" height="23" fill="#fff" />
<rect x="975" y="468" width="114" height="1" fill="#828282" />
<rect x="1088" y="446" width="1" height="23" fill="#828282" />
<rect x="976" y="446" width="112" height="1" fill="#828282" />
<rect x="976" y="446" width="1" height="21" fill="#828282" />
<rect x="976" y="467" width="112" height="1" fill="#fff" />
<rect x="1087" y="447" width="1" height="21" fill="#fff" />
<text x="1032" y="462" font-size="16.8" fill="#000" font-weight="normal" font-style="italic" text-anchor="middle" stroke="#000" stroke-width="0.5" textLength="57.7" lengthAdjust="spacingAndGlyphs">CLOSE</text>
<rect x="975" y="469" width="114" height="24" fill="#fff" />
<rect x="975" y="492" width="114" height="1" fill="#e8e8e8" />
<rect x="1088" y="469" width="1" height="24" fill="#e8e8e8" />
<rect x="976" y="491" width="112" height="1" fill="#ececec" />
<rect x="1087" y="470" width="1" height="22" fill="#ececec" />
<rect x="975" y="469" width="113" height="1" fill="#8e8e8e" />
<rect x="975" y="469" width="1" height="23" fill="#8e8e8e" />
<rect x="976" y="470" width="111" height="1" fill="#a6a6a6" />
<rect x="976" y="470" width="1" height="21" fill="#a6a6a6" />
<text x="1032" y="486" font-size="16.8" fill="#000" font-weight="normal" font-style="italic" text-anchor="middle" stroke="#000" stroke-width="0.5" textLength="69.0" lengthAdjust="spacingAndGlyphs">12.500Hz</text>
<rect x="974" y="495" width="20" height="20" fill="#ff0000" />
<rect x="974" y="495" width="20" height="1" fill="#ff7f7f" />
<rect x="974" y="495" width="1" height="20" fill="#ff7f7f" />
<rect x="974" y="514" width="20" height="1" fill="#990000" />
<rect x="993" y="495" width="1" height="20" fill="#990000" />
<rect x="975" y="496" width="18" height="1" fill="#ff7f7f" />
<rect x="975" y="496" width="1" height="18" fill="#ff7f7f" />
<rect x="975" y="513" width="18" height="1" fill="#990000" />
<rect x="992" y="496" width="1" height="18" fill="#990000" />
<text x="1042.5" y="509.6" font-size="16.8" fill="#000" font-weight="normal" font-style="italic" text-anchor="middle" stroke="#000" stroke-width="0.5" textLength="57.6" lengthAdjust="spacingAndGlyphs">4.59mA</text>
<rect x="974" y="519" width="20" height="20" fill="#0000ff" />
<rect x="974" y="519" width="20" height="1" fill="#7f7fff" />
<rect x="974" y="519" width="1" height="20" fill="#7f7fff" />
<rect x="974" y="538" width="20" height="1" fill="#000099" />
<rect x="993" y="519" width="1" height="20" fill="#000099" />
<rect x="975" y="520" width="18" height="1" fill="#7f7fff" />
<rect x="975" y="520" width="1" height="18" fill="#7f7fff" />
<rect x="975" y="537" width="18" height="1" fill="#000099" />
<rect x="992" y="520" width="1" height="18" fill="#000099" />
<text x="1042.5" y="533.6" font-size="16.8" fill="#000" font-weight="normal" font-style="italic" text-anchor="middle" stroke="#000" stroke-width="0.5" textLength="43.2" lengthAdjust="spacingAndGlyphs">----nC</text>
<rect x="974" y="543" width="20" height="20" fill="#87ceeb" />
<rect x="974" y="543" width="20" height="1" fill="#c3ffff" />
<rect x="974" y="543" width="1" height="20" fill="#c3ffff" />
<rect x="974" y="562" width="20" height="1" fill="#517b8d" />
<rect x="993" y="543" width="1" height="20" fill="#517b8d" />
<rect x="975" y="544" width="18" height="1" fill="#c3ffff" />
<rect x="975" y="544" width="1" height="18" fill="#c3ffff" />
<rect x="975" y="561" width="18" height="1" fill="#517b8d" />
<rect x="992" y="544" width="1" height="18" fill="#517b8d" />
<text x="1042.5" y="557.6" font-size="16.8" fill="#000" font-weight="normal" font-style="italic" text-anchor="middle" stroke="#000" stroke-width="0.5" textLength="43.2" lengthAdjust="spacingAndGlyphs">----nC</text>
<rect x="0" y="631" width="1093" height="1" fill="#828282" />
<rect x="0" y="632" width="1093" height="1" fill="#fff" />
<rect x="0" y="632" width="1" height="186" fill="#fff" />
<rect x="1" y="816" width="1092" height="1" fill="#828282" />
<rect x="0" y="817" width="1093" height="1" fill="#fff" />
<rect x="1092" y="633" width="1" height="184" fill="#828282" />
<rect x="5" y="630" width="147" height="4" fill="#d9d9d9" />
<text x="11" y="636.5" font-size="18.3" fill="#006400" font-weight="bold" font-style="italic" text-anchor="start" >PF  (Shutdown)</text>
<rect x="64" y="649" width="821" height="137" fill="#fff" />
<rect x="64" y="649" width="822" height="2" fill="#000" />
<rect x="64" y="649" width="2" height="138" fill="#000" />
<line x1="66" y1="659.5" x2="885" y2="659.5" stroke="#bebebe" stroke-width="1" stroke-dasharray="1 1"/>
<line x1="66" y1="670.5" x2="885" y2="670.5" stroke="#bebebe" stroke-width="1" stroke-dasharray="1 1"/>
<line x1="66" y1="682.5" x2="885" y2="682.5" stroke="#bebebe" stroke-width="1" stroke-dasharray="1 1"/>
<line x1="66" y1="694.5" x2="885" y2="694.5" stroke="#bebebe" stroke-width="1" stroke-dasharray="1 1"/>
<line x1="66" y1="706.5" x2="885" y2="706.5" stroke="#bebebe" stroke-width="1" stroke-dasharray="1 1"/>
<line x1="66" y1="718.5" x2="885" y2="718.5" stroke="#bebebe" stroke-width="1" stroke-dasharray="1 1"/>
<line x1="66" y1="729.5" x2="885" y2="729.5" stroke="#bebebe" stroke-width="1" stroke-dasharray="1 1"/>
<line x1="66" y1="741.5" x2="885" y2="741.5" stroke="#bebebe" stroke-width="1" stroke-dasharray="1 1"/>
<line x1="66" y1="753.5" x2="885" y2="753.5" stroke="#bebebe" stroke-width="1" stroke-dasharray="1 1"/>
<line x1="66" y1="765.5" x2="885" y2="765.5" stroke="#bebebe" stroke-width="1" stroke-dasharray="1 1"/>
<line x1="66" y1="777.5" x2="885" y2="777.5" stroke="#bebebe" stroke-width="1" stroke-dasharray="1 1"/>
<line x1="140.5" y1="651" x2="140.5" y2="785" stroke="#bebebe" stroke-width="1" stroke-dasharray="1 1"/>
<line x1="207.5" y1="651" x2="207.5" y2="785" stroke="#bebebe" stroke-width="1" stroke-dasharray="1 1"/>
<line x1="273.5" y1="651" x2="273.5" y2="785" stroke="#bebebe" stroke-width="1" stroke-dasharray="1 1"/>
<line x1="340.5" y1="651" x2="340.5" y2="785" stroke="#bebebe" stroke-width="1" stroke-dasharray="1 1"/>
<line x1="407.5" y1="651" x2="407.5" y2="785" stroke="#bebebe" stroke-width="1" stroke-dasharray="1 1"/>
<line x1="474.5" y1="651" x2="474.5" y2="785" stroke="#bebebe" stroke-width="1" stroke-dasharray="1 1"/>
<line x1="541.5" y1="651" x2="541.5" y2="785" stroke="#bebebe" stroke-width="1" stroke-dasharray="1 1"/>
<line x1="608.5" y1="651" x2="608.5" y2="785" stroke="#bebebe" stroke-width="1" stroke-dasharray="1 1"/>
<line x1="674.5" y1="651" x2="674.5" y2="785" stroke="#bebebe" stroke-width="1" stroke-dasharray="1 1"/>
<line x1="741.5" y1="651" x2="741.5" y2="785" stroke="#bebebe" stroke-width="1" stroke-dasharray="1 1"/>
<line x1="808.5" y1="651" x2="808.5" y2="785" stroke="#bebebe" stroke-width="1" stroke-dasharray="1 1"/>
<line x1="875.5" y1="651" x2="875.5" y2="785" stroke="#bebebe" stroke-width="1" stroke-dasharray="1 1"/>
<rect x="66" y="779" width="812" height="1" fill="#ff0000" />
<rect x="61" y="659" width="1" height="118" fill="#000" />
<rect x="53" y="659" width="8" height="1" fill="#000" />
<text x="50.6" y="664" font-size="14" fill="#000" font-weight="normal" font-style="italic" text-anchor="end" stroke="#000" stroke-width="0.1" textLength="8.3" lengthAdjust="spacingAndGlyphs">1</text>
<rect x="53" y="682" width="8" height="1" fill="#000" />
<text x="50.6" y="687" font-size="14" fill="#000" font-weight="normal" font-style="italic" text-anchor="end" stroke="#000" stroke-width="0.1" textLength="20.1" lengthAdjust="spacingAndGlyphs">0.8</text>
<rect x="53" y="706" width="8" height="1" fill="#000" />
<text x="50.6" y="711" font-size="14" fill="#000" font-weight="normal" font-style="italic" text-anchor="end" stroke="#000" stroke-width="0.1" textLength="20.1" lengthAdjust="spacingAndGlyphs">0.6</text>
<rect x="53" y="729" width="8" height="1" fill="#000" />
<text x="50.6" y="734" font-size="14" fill="#000" font-weight="normal" font-style="italic" text-anchor="end" stroke="#000" stroke-width="0.1" textLength="20.1" lengthAdjust="spacingAndGlyphs">0.4</text>
<rect x="53" y="753" width="8" height="1" fill="#000" />
<text x="50.6" y="758" font-size="14" fill="#000" font-weight="normal" font-style="italic" text-anchor="end" stroke="#000" stroke-width="0.1" textLength="20.1" lengthAdjust="spacingAndGlyphs">0.2</text>
<rect x="53" y="777" width="8" height="1" fill="#000" />
<text x="50.6" y="782" font-size="14" fill="#000" font-weight="normal" font-style="italic" text-anchor="end" stroke="#000" stroke-width="0.1" textLength="8.3" lengthAdjust="spacingAndGlyphs">0</text>
<rect x="56" y="670" width="5" height="1" fill="#000" />
<rect x="56" y="694" width="5" height="1" fill="#000" />
<rect x="56" y="718" width="5" height="1" fill="#000" />
<rect x="56" y="741" width="5" height="1" fill="#000" />
<rect x="56" y="765" width="5" height="1" fill="#000" />
<rect x="889" y="659" width="1" height="119" fill="#000" />
<rect x="890" y="777" width="8" height="1" fill="#000" />
<text x="900" y="782" font-size="14" fill="#000" font-weight="normal" font-style="italic" text-anchor="start" stroke="#000" stroke-width="0.1" textLength="8.3" lengthAdjust="spacingAndGlyphs">0</text>
<rect x="890" y="750" width="8" height="1" fill="#000" />
<text x="900" y="755" font-size="14" fill="#000" font-weight="normal" font-style="italic" text-anchor="start" stroke="#000" stroke-width="0.1" textLength="28.400000000000002" lengthAdjust="spacingAndGlyphs">0.02</text>
<rect x="890" y="724" width="8" height="1" fill="#000" />
<text x="900" y="729" font-size="14" fill="#000" font-weight="normal" font-style="italic" text-anchor="start" stroke="#000" stroke-width="0.1" textLength="28.400000000000002" lengthAdjust="spacingAndGlyphs">0.04</text>
<rect x="890" y="698" width="8" height="1" fill="#000" />
<text x="900" y="703" font-size="14" fill="#000" font-weight="normal" font-style="italic" text-anchor="start" stroke="#000" stroke-width="0.1" textLength="28.400000000000002" lengthAdjust="spacingAndGlyphs">0.06</text>
<rect x="890" y="672" width="8" height="1" fill="#000" />
<text x="900" y="677" font-size="14" fill="#000" font-weight="normal" font-style="italic" text-anchor="start" stroke="#000" stroke-width="0.1" textLength="28.400000000000002" lengthAdjust="spacingAndGlyphs">0.08</text>
<rect x="890" y="763" width="5" height="1" fill="#000" />
<rect x="890" y="737" width="5" height="1" fill="#000" />
<rect x="890" y="711" width="5" height="1" fill="#000" />
<rect x="890" y="685" width="5" height="1" fill="#000" />
<rect x="890" y="659" width="5" height="1" fill="#000" />
<rect x="74" y="790" width="802" height="1" fill="#000" />
<rect x="207" y="791" width="1" height="8" fill="#000" />
<text x="207" y="810" font-size="10.5" fill="#000" font-weight="normal" font-style="normal" text-anchor="middle" stroke="#000" stroke-width="0.25" textLength="42" lengthAdjust="spacingAndGlyphs">22:20:00</text>
<rect x="340" y="791" width="1" height="8" fill="#000" />
<text x="340" y="810" font-size="10.5" fill="#000" font-weight="normal" font-style="normal" text-anchor="middle" stroke="#000" stroke-width="0.25" textLength="42" lengthAdjust="spacingAndGlyphs">22:40:00</text>
<rect x="474" y="791" width="1" height="8" fill="#000" />
<text x="474" y="810" font-size="10.5" fill="#000" font-weight="normal" font-style="normal" text-anchor="middle" stroke="#000" stroke-width="0.25" textLength="42" lengthAdjust="spacingAndGlyphs">23:00:00</text>
<rect x="608" y="791" width="1" height="8" fill="#000" />
<text x="608" y="810" font-size="10.5" fill="#000" font-weight="normal" font-style="normal" text-anchor="middle" stroke="#000" stroke-width="0.25" textLength="42" lengthAdjust="spacingAndGlyphs">23:20:00</text>
<rect x="741" y="791" width="1" height="8" fill="#000" />
<text x="741" y="810" font-size="10.5" fill="#000" font-weight="normal" font-style="normal" text-anchor="middle" stroke="#000" stroke-width="0.25" textLength="42" lengthAdjust="spacingAndGlyphs">23:40:00</text>
<rect x="875" y="791" width="1" height="8" fill="#000" />
<text x="875" y="810" font-size="10.5" fill="#000" font-weight="normal" font-style="normal" text-anchor="middle" stroke="#000" stroke-width="0.25" textLength="42" lengthAdjust="spacingAndGlyphs">00:00:00</text>
<rect x="140" y="791" width="1" height="4" fill="#000" />
<rect x="273" y="791" width="1" height="4" fill="#000" />
<rect x="407" y="791" width="1" height="4" fill="#000" />
<rect x="541" y="791" width="1" height="4" fill="#000" />
<rect x="674" y="791" width="1" height="4" fill="#000" />
<rect x="808" y="791" width="1" height="4" fill="#000" />
<text transform="translate(936,718) rotate(90)" font-size="14" font-style="italic" text-anchor="middle" textLength="107" lengthAdjust="spacingAndGlyphs">Inj Rate(mA/sec)</text>
<text transform="translate(953,717) rotate(90)" font-size="14" font-style="italic" text-anchor="middle" textLength="75" lengthAdjust="spacingAndGlyphs">Charge(nC)</text>
<text transform="translate(21.5,717.5) rotate(-90)" font-size="14" font-style="italic" text-anchor="middle" textLength="84" lengthAdjust="spacingAndGlyphs">Current (mA)</text>
<rect x="975" y="643" width="114" height="24" fill="#d3d3d3" />
<rect x="975" y="643" width="114" height="1" fill="#fff" />
<rect x="975" y="643" width="1" height="23" fill="#fff" />
<rect x="975" y="666" width="114" height="1" fill="#828282" />
<rect x="1088" y="644" width="1" height="23" fill="#828282" />
<rect x="976" y="644" width="112" height="1" fill="#828282" />
<rect x="976" y="644" width="1" height="21" fill="#828282" />
<rect x="976" y="665" width="112" height="1" fill="#fff" />
<rect x="1087" y="645" width="1" height="21" fill="#fff" />
<text x="1032" y="660" font-size="16.8" fill="#000" font-weight="normal" font-style="italic" text-anchor="middle" stroke="#000" stroke-width="0.5" textLength="57.7" lengthAdjust="spacingAndGlyphs">CLOSE</text>
<rect x="975" y="667" width="114" height="24" fill="#fff" />
<rect x="975" y="690" width="114" height="1" fill="#e8e8e8" />
<rect x="1088" y="667" width="1" height="24" fill="#e8e8e8" />
<rect x="976" y="689" width="112" height="1" fill="#ececec" />
<rect x="1087" y="668" width="1" height="22" fill="#ececec" />
<rect x="975" y="667" width="113" height="1" fill="#8e8e8e" />
<rect x="975" y="667" width="1" height="23" fill="#8e8e8e" />
<rect x="976" y="668" width="111" height="1" fill="#a6a6a6" />
<rect x="976" y="668" width="1" height="21" fill="#a6a6a6" />
<text x="1032" y="684" font-size="16.8" fill="#000" font-weight="normal" font-style="italic" text-anchor="middle" stroke="#000" stroke-width="0.5" textLength="60.0" lengthAdjust="spacingAndGlyphs">0.000Hz</text>
<rect x="974" y="693" width="20" height="20" fill="#ff0000" />
<rect x="974" y="693" width="20" height="1" fill="#ff7f7f" />
<rect x="974" y="693" width="1" height="20" fill="#ff7f7f" />
<rect x="974" y="712" width="20" height="1" fill="#990000" />
<rect x="993" y="693" width="1" height="20" fill="#990000" />
<rect x="975" y="694" width="18" height="1" fill="#ff7f7f" />
<rect x="975" y="694" width="1" height="18" fill="#ff7f7f" />
<rect x="975" y="711" width="18" height="1" fill="#990000" />
<rect x="992" y="694" width="1" height="18" fill="#990000" />
<text x="1042.5" y="707.6" font-size="16.8" fill="#000" font-weight="normal" font-style="italic" text-anchor="middle" stroke="#000" stroke-width="0.5" textLength="63.0" lengthAdjust="spacingAndGlyphs">-0.02mA</text>
<rect x="974" y="717" width="20" height="20" fill="#006400" />
<rect x="974" y="717" width="20" height="1" fill="#7fb17f" />
<rect x="974" y="717" width="1" height="20" fill="#7fb17f" />
<rect x="974" y="736" width="20" height="1" fill="#003c00" />
<rect x="993" y="717" width="1" height="20" fill="#003c00" />
<rect x="975" y="718" width="18" height="1" fill="#7fb17f" />
<rect x="975" y="718" width="1" height="18" fill="#7fb17f" />
<rect x="975" y="735" width="18" height="1" fill="#003c00" />
<rect x="992" y="718" width="1" height="18" fill="#003c00" />
<text x="1042.5" y="731.6" font-size="16.8" fill="#000" font-weight="normal" font-style="italic" text-anchor="middle" stroke="#000" stroke-width="0.5" textLength="61.2" lengthAdjust="spacingAndGlyphs">----mA/s</text>
<rect x="974" y="741" width="20" height="20" fill="#0000ff" />
<rect x="974" y="741" width="20" height="1" fill="#7f7fff" />
<rect x="974" y="741" width="1" height="20" fill="#7f7fff" />
<rect x="974" y="760" width="20" height="1" fill="#000099" />
<rect x="993" y="741" width="1" height="20" fill="#000099" />
<rect x="975" y="742" width="18" height="1" fill="#7f7fff" />
<rect x="975" y="742" width="1" height="18" fill="#7f7fff" />
<rect x="975" y="759" width="18" height="1" fill="#000099" />
<rect x="992" y="742" width="1" height="18" fill="#000099" />
<text x="1042.5" y="755.6" font-size="16.8" fill="#000" font-weight="normal" font-style="italic" text-anchor="middle" stroke="#000" stroke-width="0.5" textLength="43.2" lengthAdjust="spacingAndGlyphs">----nC</text>
<rect x="0" y="829" width="1093" height="1" fill="#828282" />
<rect x="0" y="830" width="1093" height="1" fill="#fff" />
<rect x="0" y="830" width="1" height="186" fill="#fff" />
<rect x="1" y="1014" width="1092" height="1" fill="#828282" />
<rect x="0" y="1015" width="1093" height="1" fill="#fff" />
<rect x="1092" y="831" width="1" height="184" fill="#828282" />
<rect x="5" y="828" width="150" height="4" fill="#d9d9d9" />
<text x="11" y="834.5" font-size="18.3" fill="#000000" font-weight="bold" font-style="italic" text-anchor="start" >AR  (Shutdown)</text>
<rect x="80" y="847" width="805" height="137" fill="#fff" />
<rect x="80" y="847" width="806" height="2" fill="#000" />
<rect x="80" y="847" width="2" height="138" fill="#000" />
<line x1="82" y1="866.5" x2="885" y2="866.5" stroke="#bebebe" stroke-width="1" stroke-dasharray="1 1"/>
<line x1="82" y1="881.5" x2="885" y2="881.5" stroke="#bebebe" stroke-width="1" stroke-dasharray="1 1"/>
<line x1="82" y1="895.5" x2="885" y2="895.5" stroke="#bebebe" stroke-width="1" stroke-dasharray="1 1"/>
<line x1="82" y1="909.5" x2="885" y2="909.5" stroke="#bebebe" stroke-width="1" stroke-dasharray="1 1"/>
<line x1="82" y1="924.5" x2="885" y2="924.5" stroke="#bebebe" stroke-width="1" stroke-dasharray="1 1"/>
<line x1="82" y1="938.5" x2="885" y2="938.5" stroke="#bebebe" stroke-width="1" stroke-dasharray="1 1"/>
<line x1="82" y1="952.5" x2="885" y2="952.5" stroke="#bebebe" stroke-width="1" stroke-dasharray="1 1"/>
<line x1="82" y1="966.5" x2="885" y2="966.5" stroke="#bebebe" stroke-width="1" stroke-dasharray="1 1"/>
<line x1="154.5" y1="849" x2="154.5" y2="983" stroke="#bebebe" stroke-width="1" stroke-dasharray="1 1"/>
<line x1="220.5" y1="849" x2="220.5" y2="983" stroke="#bebebe" stroke-width="1" stroke-dasharray="1 1"/>
<line x1="285.5" y1="849" x2="285.5" y2="983" stroke="#bebebe" stroke-width="1" stroke-dasharray="1 1"/>
<line x1="351.5" y1="849" x2="351.5" y2="983" stroke="#bebebe" stroke-width="1" stroke-dasharray="1 1"/>
<line x1="416.5" y1="849" x2="416.5" y2="983" stroke="#bebebe" stroke-width="1" stroke-dasharray="1 1"/>
<line x1="482.5" y1="849" x2="482.5" y2="983" stroke="#bebebe" stroke-width="1" stroke-dasharray="1 1"/>
<line x1="547.5" y1="849" x2="547.5" y2="983" stroke="#bebebe" stroke-width="1" stroke-dasharray="1 1"/>
<line x1="613.5" y1="849" x2="613.5" y2="983" stroke="#bebebe" stroke-width="1" stroke-dasharray="1 1"/>
<line x1="678.5" y1="849" x2="678.5" y2="983" stroke="#bebebe" stroke-width="1" stroke-dasharray="1 1"/>
<line x1="744.5" y1="849" x2="744.5" y2="983" stroke="#bebebe" stroke-width="1" stroke-dasharray="1 1"/>
<line x1="809.5" y1="849" x2="809.5" y2="983" stroke="#bebebe" stroke-width="1" stroke-dasharray="1 1"/>
<line x1="875.5" y1="849" x2="875.5" y2="983" stroke="#bebebe" stroke-width="1" stroke-dasharray="1 1"/>
<path d="M82.5 884v27M83.5 895v35M84.5 897v14M85.5 910v30M86.5 917v20M87.5 877v40M88.5 907v25M89.5 913v12M90.5 875v54M91.5 884v51M92.5 895v39M93.5 903v28M94.5 889v38M95.5 886v43M96.5 891v25M97.5 894v35M98.5 883v23M99.5 891v20M100.5 904v40M101.5 891v31M102.5 905v41M103.5 907v40M104.5 909v23M105.5 906v23M106.5 898v30M107.5 882v42M108.5 895v15M109.5 888v30M110.5 894v26M111.5 910v37M112.5 905v21M113.5 906v24M114.5 903v34M115.5 915v21M116.5 915v25M117.5 909v30M118.5 910v14M119.5 915v10M120.5 909v13M121.5 903v15M122.5 890v39M123.5 899v16M124.5 911v6M125.5 912v9M126.5 897v21M127.5 910v16M128.5 909v16M129.5 893v28M130.5 892v25M131.5 887v44M132.5 901v24M133.5 885v38M134.5 905v19M135.5 907v18M136.5 896v38M137.5 899v30M138.5 901v19M139.5 904v37M140.5 885v40M141.5 898v18M142.5 904v26M143.5 894v35M144.5 893v23M145.5 888v20M146.5 911v24M147.5 887v28M148.5 902v19M149.5 904v20M150.5 886v33M151.5 910v16M152.5 911v5M153.5 899v42M154.5 901v24M155.5 888v42M156.5 903v21M157.5 900v36M158.5 912v25M159.5 901v34M160.5 898v18M161.5 902v20M162.5 910v18M163.5 913v30M164.5 911v29M165.5 902v21M166.5 907v9M167.5 899v32M168.5 918v24M169.5 900v13M170.5 888v31M171.5 892v33M172.5 908v36M173.5 910v18M174.5 911v21M175.5 911v15M176.5 913v27M177.5 912v12M178.5 908v26M179.5 906v26M180.5 896v23M181.5 895v23M182.5 904v45M183.5 903v20M184.5 910v23M185.5 890v30M186.5 905v21M187.5 911v35M188.5 900v26M189.5 899v31M190.5 918v14M191.5 912v19M192.5 914v21M193.5 929v16M194.5 914v16M195.5 919v26M196.5 914v22M197.5 902v25M198.5 904v15M199.5 916v29M200.5 900v29M201.5 903v27M202.5 916v13M203.5 902v10M204.5 913v6M205.5 905v47M206.5 911v31M207.5 915v24M208.5 909v23M209.5 918v16M210.5 910v41M211.5 904v15M212.5 898v42M213.5 884v41M214.5 897v25M215.5 882v48M216.5 903v26M217.5 894v24M218.5 896v18M219.5 900v26M220.5 906v34M221.5 898v39M222.5 911v20M223.5 909v27M224.5 901v24M225.5 918v17M226.5 917v48M227.5 919v27M228.5 916v20M229.5 911v26M230.5 903v48M231.5 912v30M232.5 912v34M233.5 916v16M234.5 916v32M235.5 917v23M236.5 906v24M237.5 913v19M238.5 908v40M239.5 895v39M240.5 898v36M241.5 896v23M242.5 900v37M243.5 902v22M244.5 892v31M245.5 899v18M246.5 895v26M247.5 903v34M248.5 892v28M249.5 900v28M250.5 883v22M251.5 896v31M252.5 904v21M253.5 906v26M254.5 915v18M255.5 914v27M256.5 911v19M257.5 883v33M258.5 895v22M259.5 903v33M260.5 902v24M261.5 908v23M262.5 894v33M263.5 899v33M264.5 894v36M265.5 912v49M266.5 915v23M267.5 908v27M268.5 895v42M269.5 904v29M270.5 911v19M271.5 909v40M272.5 890v43M273.5 902v33M274.5 910v18M275.5 907v18M276.5 896v31M277.5 903v25M278.5 916v22M279.5 924v21M280.5 910v31M281.5 879v49M282.5 895v27M283.5 898v48M284.5 906v31M285.5 908v33M286.5 905v36M287.5 914v22M288.5 920v12M289.5 917v32M290.5 897v39M291.5 912v16M292.5 905v25M293.5 896v30M294.5 918v21M295.5 900v27M296.5 901v23M297.5 910v15M298.5 905v25M299.5 897v28M300.5 897v26M301.5 886v42M302.5 907v23M303.5 908v29M304.5 913v22M305.5 905v39M306.5 912v26M307.5 922v23M308.5 915v39M309.5 921v18M310.5 927v18M311.5 901v39M312.5 918v24M313.5 922v24M314.5 910v22M315.5 910v23M316.5 918v34M317.5 920v39M318.5 924v14M319.5 915v26M320.5 924v31M321.5 912v23M322.5 912v39M323.5 919v16M324.5 929v14M325.5 925v13M326.5 924v28M327.5 920v39M328.5 934v20M329.5 934v17M330.5 930v22M331.5 933v26M332.5 907v53M333.5 918v32M334.5 922v30M335.5 919v34M336.5 886v60M337.5 931v34M338.5 927v23M339.5 912v45M340.5 929v25M341.5 919v32M342.5 924v13M343.5 919v11M344.5 916v27M345.5 924v32M346.5 911v28M347.5 897v45M348.5 922v12M349.5 909v28M350.5 916v18M351.5 910v39M352.5 895v25M353.5 913v15M354.5 913v21M355.5 907v51M356.5 898v31M357.5 911v22M358.5 899v24M359.5 904v14M360.5 900v19M361.5 901v24M362.5 900v17M363.5 908v23M364.5 904v30M365.5 890v32M366.5 876v38M367.5 897v22M368.5 886v39M369.5 883v44M370.5 895v40M371.5 899v15M372.5 879v37M373.5 880v39M374.5 881v34M375.5 885v32M376.5 880v28M377.5 874v29M378.5 888v38M379.5 895v53M380.5 898v20M381.5 915v18M382.5 884v41M383.5 887v36M384.5 899v16M385.5 904v27M386.5 911v17M387.5 908v13M388.5 890v22M389.5 896v21M390.5 898v20M391.5 899v32M392.5 893v40M393.5 900v25M394.5 906v21M395.5 891v37M396.5 886v38M397.5 888v37M398.5 904v7M399.5 896v35M400.5 905v16M401.5 899v25M402.5 884v30M403.5 902v25M404.5 900v31M405.5 877v60M406.5 897v17M407.5 894v39M408.5 912v18M409.5 892v25M410.5 895v33M411.5 906v34M412.5 922v16M413.5 881v54M414.5 908v17M415.5 899v25M416.5 911v32M417.5 923v11M418.5 912v19M419.5 917v12M420.5 900v53M421.5 903v25M422.5 909v18M423.5 906v30M424.5 905v24M425.5 895v55M426.5 905v19M427.5 905v36M428.5 909v17M429.5 893v38M430.5 922v20M431.5 912v28M432.5 919v20M433.5 918v46M434.5 916v40M435.5 905v45M436.5 929v25M437.5 901v20M438.5 918v17M439.5 903v35M440.5 900v34M441.5 900v15M442.5 907v23M443.5 876v55M444.5 896v20M445.5 889v39M446.5 916v21M447.5 908v20M448.5 904v17M449.5 895v36M450.5 903v27M451.5 913v17M452.5 914v19M453.5 905v18M454.5 899v21M455.5 897v68M456.5 904v48M457.5 900v36M458.5 903v30M459.5 892v40M460.5 865v59M461.5 906v18M462.5 889v67M463.5 913v34M464.5 909v26M465.5 916v24M466.5 928v10M467.5 895v31M468.5 917v27M469.5 923v18M470.5 920v17M471.5 908v28M472.5 912v25M473.5 912v25M474.5 915v19M475.5 912v20M476.5 894v38M477.5 901v23M478.5 903v21M479.5 901v37M480.5 894v19M481.5 898v17M482.5 893v34M483.5 903v14M484.5 892v19M485.5 894v28M486.5 887v31M487.5 909v20M488.5 892v29M489.5 893v20M490.5 903v16M491.5 906v23M492.5 892v15M493.5 875v38M494.5 893v22M495.5 903v11M496.5 876v38M497.5 880v24M498.5 858v64M499.5 882v37M500.5 891v17M501.5 880v37M502.5 879v30M503.5 893v27M504.5 874v42M505.5 875v26M506.5 880v19M507.5 884v23M508.5 897v29M509.5 901v23M510.5 887v23M511.5 886v37M512.5 906v22M513.5 897v16M514.5 892v32M515.5 901v16M516.5 903v12M517.5 881v27M518.5 893v26M519.5 903v29M520.5 886v39M521.5 877v46M522.5 862v63M523.5 877v30M524.5 894v21M525.5 896v14M526.5 907v17M527.5 913v28M528.5 905v19M529.5 894v48M530.5 891v35M531.5 917v17M532.5 897v29M533.5 909v29M534.5 882v46M535.5 915v51M536.5 912v29M537.5 902v33M538.5 902v26M539.5 905v22M540.5 886v30M541.5 914v17M542.5 899v26M543.5 888v40M544.5 894v33M545.5 896v17M546.5 889v35M547.5 898v27M548.5 891v29M549.5 894v19M550.5 906v18M551.5 905v28M552.5 903v14M553.5 905v19M554.5 923v20M555.5 896v38M556.5 904v28M557.5 899v15M558.5 909v28M559.5 897v39M560.5 904v27M561.5 893v22M562.5 897v35M563.5 902v22M564.5 902v20M565.5 895v30M566.5 907v19M567.5 889v22M568.5 891v50M569.5 900v20M570.5 885v37M571.5 903v32M572.5 895v30M573.5 899v26M574.5 898v26M575.5 900v29M576.5 908v16M577.5 898v19M578.5 891v22M579.5 900v23M580.5 886v51M581.5 913v15M582.5 903v20M583.5 905v9M584.5 890v47M585.5 908v26M586.5 911v24M587.5 907v30M588.5 904v29M589.5 906v43M590.5 902v21M591.5 894v20M592.5 908v22M593.5 908v24M594.5 905v21M595.5 910v37M596.5 895v20M597.5 901v38M598.5 898v47M599.5 894v30M600.5 904v13M601.5 892v40M602.5 898v18M603.5 890v30M604.5 884v36M605.5 902v28M606.5 893v22M607.5 894v19M608.5 904v19M609.5 888v28M610.5 886v27M611.5 868v31M612.5 866v39M613.5 890v13M614.5 884v17M615.5 877v28M616.5 893v15M617.5 887v34M618.5 904v18M619.5 906v17M620.5 906v15M621.5 893v18M622.5 893v14M623.5 892v17M624.5 882v43M625.5 887v32M626.5 891v11M627.5 901v21M628.5 896v16M629.5 888v36M630.5 895v18M631.5 893v24M632.5 892v21M633.5 881v34M634.5 894v25M635.5 898v18M636.5 899v19M637.5 898v27M638.5 898v33M639.5 906v28M640.5 906v16M641.5 879v53M642.5 905v21M643.5 898v24M644.5 895v26M645.5 904v24M646.5 902v29M647.5 896v26M648.5 902v22M649.5 904v14M650.5 910v12M651.5 903v24M652.5 903v32M653.5 909v13M654.5 911v10M655.5 917v23M656.5 901v14M657.5 902v24M658.5 912v19M659.5 903v25M660.5 891v33M661.5 900v16M662.5 886v31M663.5 891v41M664.5 902v23M665.5 904v17M666.5 901v32M667.5 894v27M668.5 892v27M669.5 903v11M670.5 891v23M671.5 886v33M672.5 892v26M673.5 891v21M674.5 903v27M675.5 877v27M676.5 891v16M677.5 869v31M678.5 886v32M679.5 880v19M680.5 884v40M681.5 882v27M682.5 884v15M683.5 897v27M684.5 897v27M685.5 888v26M686.5 889v21M687.5 881v23M688.5 894v15M689.5 879v45M690.5 885v46M691.5 878v15M692.5 864v45M693.5 888v22M694.5 889v31M695.5 876v23M696.5 885v31M697.5 895v29M698.5 889v42M699.5 889v22M700.5 886v32M701.5 872v45M702.5 885v23M703.5 880v33M704.5 895v21M705.5 892v37M706.5 875v48M707.5 891v23M708.5 883v30M709.5 886v29M710.5 888v23M711.5 885v41M712.5 902v23M713.5 906v7M714.5 883v31M715.5 887v17M716.5 894v24M717.5 876v51M718.5 889v19M719.5 864v53M720.5 888v11M721.5 884v20M722.5 878v17M723.5 880v34M724.5 882v22M725.5 886v40M726.5 899v16M727.5 874v37M728.5 890v27M729.5 891v25M730.5 883v21M731.5 891v26M732.5 896v26M733.5 899v18M734.5 886v31M735.5 898v14M736.5 886v29M737.5 885v28M738.5 887v16M739.5 881v27M740.5 902v24M741.5 870v47M742.5 886v35M743.5 893v40M744.5 890v28M745.5 891v21M746.5 898v17M747.5 896v20M748.5 896v29M749.5 898v12M750.5 899v19M751.5 900v15M752.5 903v22M753.5 894v20M754.5 896v27M755.5 872v29M756.5 865v47M757.5 887v33M758.5 885v34M759.5 897v22M760.5 880v18M761.5 891v12M762.5 899v13M763.5 894v37M764.5 893v37M765.5 867v43M766.5 886v19M767.5 905v7M768.5 896v34M769.5 891v23M770.5 884v31M771.5 911v14M772.5 903v21M773.5 898v24M774.5 917v16M775.5 907v25M776.5 902v23M777.5 896v32M778.5 887v47M779.5 888v40M780.5 896v15M781.5 914v23M782.5 893v18M783.5 910v38M784.5 899v15M785.5 885v43M786.5 902v24M787.5 911v17M788.5 890v35M789.5 906v29M790.5 902v23M791.5 899v29M792.5 903v14M793.5 907v17M794.5 915v22M795.5 901v28M796.5 893v43M797.5 905v36M798.5 888v36M799.5 900v30M800.5 878v48M801.5 908v24M802.5 914v12M803.5 898v27M804.5 896v22M805.5 900v18M806.5 895v31M807.5 891v24M808.5 896v34M809.5 902v33M810.5 898v19M811.5 912v19M812.5 904v22M813.5 896v23M814.5 887v29M815.5 883v43M816.5 891v32M817.5 911v19M818.5 902v26M819.5 904v39M820.5 879v43M821.5 892v14M822.5 893v24M823.5 895v16M824.5 890v59M825.5 895v19M826.5 879v33M827.5 893v45M828.5 894v28M829.5 902v20M830.5 906v20M831.5 902v18M832.5 883v19M833.5 889v25M834.5 898v22M835.5 902v19M836.5 902v24M837.5 906v6M838.5 898v30M839.5 910v17M840.5 902v20M841.5 907v22M842.5 905v16M843.5 904v24M844.5 877v42M845.5 892v19M846.5 901v21M847.5 901v21M848.5 887v34M849.5 888v30M850.5 899v28M851.5 910v21M852.5 896v24M853.5 901v40M854.5 914v15M855.5 894v53M856.5 911v23M857.5 913v11M858.5 873v45M859.5 915v20M860.5 915v12M861.5 902v32M862.5 911v24M863.5 925v13M864.5 908v28M865.5 908v25M866.5 907v26M867.5 893v30M868.5 910v23M869.5 915v13M870.5 914v17M871.5 902v32M872.5 907v34M873.5 902v40M874.5 908v28M875.5 885v34M876.5 910v28M877.5 899v37" stroke="#ff0000" stroke-width="1" fill="none" shape-rendering="crispEdges"/>
<rect x="77" y="856" width="1" height="121" fill="#000" />
<rect x="69" y="866" width="8" height="1" fill="#000" />
<text x="66.6" y="871" font-size="14" fill="#000" font-weight="normal" font-style="italic" text-anchor="end" stroke="#000" stroke-width="0.1" textLength="36.7" lengthAdjust="spacingAndGlyphs">0.012</text>
<rect x="69" y="895" width="8" height="1" fill="#000" />
<text x="66.6" y="900" font-size="14" fill="#000" font-weight="normal" font-style="italic" text-anchor="end" stroke="#000" stroke-width="0.1" textLength="28.400000000000002" lengthAdjust="spacingAndGlyphs">0.01</text>
<rect x="69" y="924" width="8" height="1" fill="#000" />
<text x="66.6" y="929" font-size="14" fill="#000" font-weight="normal" font-style="italic" text-anchor="end" stroke="#000" stroke-width="0.1" textLength="36.7" lengthAdjust="spacingAndGlyphs">0.008</text>
<rect x="69" y="952" width="8" height="1" fill="#000" />
<text x="66.6" y="957" font-size="14" fill="#000" font-weight="normal" font-style="italic" text-anchor="end" stroke="#000" stroke-width="0.1" textLength="36.7" lengthAdjust="spacingAndGlyphs">0.006</text>
<rect x="72" y="881" width="5" height="1" fill="#000" />
<rect x="72" y="909" width="5" height="1" fill="#000" />
<rect x="72" y="938" width="5" height="1" fill="#000" />
<rect x="72" y="966" width="5" height="1" fill="#000" />
<rect x="889" y="857" width="1" height="119" fill="#000" />
<rect x="890" y="975" width="8" height="1" fill="#000" />
<text x="900" y="980" font-size="14" fill="#000" font-weight="normal" font-style="italic" text-anchor="start" stroke="#000" stroke-width="0.1" textLength="8.3" lengthAdjust="spacingAndGlyphs">0</text>
<rect x="890" y="948" width="8" height="1" fill="#000" />
<text x="900" y="953" font-size="14" fill="#000" font-weight="normal" font-style="italic" text-anchor="start" stroke="#000" stroke-width="0.1" textLength="28.400000000000002" lengthAdjust="spacingAndGlyphs">0.02</text>
<rect x="890" y="922" width="8" height="1" fill="#000" />
<text x="900" y="927" font-size="14" fill="#000" font-weight="normal" font-style="italic" text-anchor="start" stroke="#000" stroke-width="0.1" textLength="28.400000000000002" lengthAdjust="spacingAndGlyphs">0.04</text>
<rect x="890" y="896" width="8" height="1" fill="#000" />
<text x="900" y="901" font-size="14" fill="#000" font-weight="normal" font-style="italic" text-anchor="start" stroke="#000" stroke-width="0.1" textLength="28.400000000000002" lengthAdjust="spacingAndGlyphs">0.06</text>
<rect x="890" y="870" width="8" height="1" fill="#000" />
<text x="900" y="875" font-size="14" fill="#000" font-weight="normal" font-style="italic" text-anchor="start" stroke="#000" stroke-width="0.1" textLength="28.400000000000002" lengthAdjust="spacingAndGlyphs">0.08</text>
<rect x="890" y="961" width="5" height="1" fill="#000" />
<rect x="890" y="935" width="5" height="1" fill="#000" />
<rect x="890" y="909" width="5" height="1" fill="#000" />
<rect x="890" y="883" width="5" height="1" fill="#000" />
<rect x="890" y="857" width="5" height="1" fill="#000" />
<rect x="90" y="988" width="786" height="1" fill="#000" />
<rect x="220" y="989" width="1" height="8" fill="#000" />
<text x="220" y="1008" font-size="10.5" fill="#000" font-weight="normal" font-style="normal" text-anchor="middle" stroke="#000" stroke-width="0.25" textLength="42" lengthAdjust="spacingAndGlyphs">22:20:00</text>
<rect x="351" y="989" width="1" height="8" fill="#000" />
<text x="351" y="1008" font-size="10.5" fill="#000" font-weight="normal" font-style="normal" text-anchor="middle" stroke="#000" stroke-width="0.25" textLength="42" lengthAdjust="spacingAndGlyphs">22:40:00</text>
<rect x="482" y="989" width="1" height="8" fill="#000" />
<text x="482" y="1008" font-size="10.5" fill="#000" font-weight="normal" font-style="normal" text-anchor="middle" stroke="#000" stroke-width="0.25" textLength="42" lengthAdjust="spacingAndGlyphs">23:00:00</text>
<rect x="613" y="989" width="1" height="8" fill="#000" />
<text x="613" y="1008" font-size="10.5" fill="#000" font-weight="normal" font-style="normal" text-anchor="middle" stroke="#000" stroke-width="0.25" textLength="42" lengthAdjust="spacingAndGlyphs">23:20:00</text>
<rect x="744" y="989" width="1" height="8" fill="#000" />
<text x="744" y="1008" font-size="10.5" fill="#000" font-weight="normal" font-style="normal" text-anchor="middle" stroke="#000" stroke-width="0.25" textLength="42" lengthAdjust="spacingAndGlyphs">23:40:00</text>
<rect x="875" y="989" width="1" height="8" fill="#000" />
<text x="875" y="1008" font-size="10.5" fill="#000" font-weight="normal" font-style="normal" text-anchor="middle" stroke="#000" stroke-width="0.25" textLength="42" lengthAdjust="spacingAndGlyphs">00:00:00</text>
<rect x="154" y="989" width="1" height="4" fill="#000" />
<rect x="285" y="989" width="1" height="4" fill="#000" />
<rect x="416" y="989" width="1" height="4" fill="#000" />
<rect x="547" y="989" width="1" height="4" fill="#000" />
<rect x="678" y="989" width="1" height="4" fill="#000" />
<rect x="809" y="989" width="1" height="4" fill="#000" />
<text transform="translate(936,915) rotate(90)" font-size="14" font-style="italic" text-anchor="middle" textLength="107" lengthAdjust="spacingAndGlyphs">Inj Rate(mA/sec)</text>
<text transform="translate(953,914) rotate(90)" font-size="14" font-style="italic" text-anchor="middle" textLength="75" lengthAdjust="spacingAndGlyphs">Charge(nC)</text>
<text transform="translate(21.5,915.5) rotate(-90)" font-size="14" font-style="italic" text-anchor="middle" textLength="84" lengthAdjust="spacingAndGlyphs">Current (mA)</text>
<rect x="975" y="841" width="114" height="24" fill="#d3d3d3" />
<rect x="975" y="841" width="114" height="1" fill="#fff" />
<rect x="975" y="841" width="1" height="23" fill="#fff" />
<rect x="975" y="864" width="114" height="1" fill="#828282" />
<rect x="1088" y="842" width="1" height="23" fill="#828282" />
<rect x="976" y="842" width="112" height="1" fill="#828282" />
<rect x="976" y="842" width="1" height="21" fill="#828282" />
<rect x="976" y="863" width="112" height="1" fill="#fff" />
<rect x="1087" y="843" width="1" height="21" fill="#fff" />
<text x="1032" y="858" font-size="16.8" fill="#000" font-weight="normal" font-style="italic" text-anchor="middle" stroke="#000" stroke-width="0.5" textLength="57.7" lengthAdjust="spacingAndGlyphs">CLOSE</text>
<rect x="975" y="865" width="114" height="24" fill="#fff" />
<rect x="975" y="888" width="114" height="1" fill="#e8e8e8" />
<rect x="1088" y="865" width="1" height="24" fill="#e8e8e8" />
<rect x="976" y="887" width="112" height="1" fill="#ececec" />
<rect x="1087" y="866" width="1" height="22" fill="#ececec" />
<rect x="975" y="865" width="113" height="1" fill="#8e8e8e" />
<rect x="975" y="865" width="1" height="23" fill="#8e8e8e" />
<rect x="976" y="866" width="111" height="1" fill="#a6a6a6" />
<rect x="976" y="866" width="1" height="21" fill="#a6a6a6" />
<text x="1032" y="882" font-size="16.8" fill="#000" font-weight="normal" font-style="italic" text-anchor="middle" stroke="#000" stroke-width="0.5" textLength="60.0" lengthAdjust="spacingAndGlyphs">0.000Hz</text>
<rect x="974" y="891" width="20" height="20" fill="#ff0000" />
<rect x="974" y="891" width="20" height="1" fill="#ff7f7f" />
<rect x="974" y="891" width="1" height="20" fill="#ff7f7f" />
<rect x="974" y="910" width="20" height="1" fill="#990000" />
<rect x="993" y="891" width="1" height="20" fill="#990000" />
<rect x="975" y="892" width="18" height="1" fill="#ff7f7f" />
<rect x="975" y="892" width="1" height="18" fill="#ff7f7f" />
<rect x="975" y="909" width="18" height="1" fill="#990000" />
<rect x="992" y="892" width="1" height="18" fill="#990000" />
<text x="1042.5" y="905.6" font-size="16.8" fill="#000" font-weight="normal" font-style="italic" text-anchor="middle" stroke="#000" stroke-width="0.5" textLength="57.6" lengthAdjust="spacingAndGlyphs">0.01mA</text>
<rect x="974" y="915" width="20" height="20" fill="#006400" />
<rect x="974" y="915" width="20" height="1" fill="#7fb17f" />
<rect x="974" y="915" width="1" height="20" fill="#7fb17f" />
<rect x="974" y="934" width="20" height="1" fill="#003c00" />
<rect x="993" y="915" width="1" height="20" fill="#003c00" />
<rect x="975" y="916" width="18" height="1" fill="#7fb17f" />
<rect x="975" y="916" width="1" height="18" fill="#7fb17f" />
<rect x="975" y="933" width="18" height="1" fill="#003c00" />
<rect x="992" y="916" width="1" height="18" fill="#003c00" />
<text x="1042.5" y="929.6" font-size="16.8" fill="#000" font-weight="normal" font-style="italic" text-anchor="middle" stroke="#000" stroke-width="0.5" textLength="61.2" lengthAdjust="spacingAndGlyphs">----mA/s</text>
<rect x="974" y="939" width="20" height="20" fill="#0000ff" />
<rect x="974" y="939" width="20" height="1" fill="#7f7fff" />
<rect x="974" y="939" width="1" height="20" fill="#7f7fff" />
<rect x="974" y="958" width="20" height="1" fill="#000099" />
<rect x="993" y="939" width="1" height="20" fill="#000099" />
<rect x="975" y="940" width="18" height="1" fill="#7f7fff" />
<rect x="975" y="940" width="1" height="18" fill="#7f7fff" />
<rect x="975" y="957" width="18" height="1" fill="#000099" />
<rect x="992" y="940" width="1" height="18" fill="#000099" />
<text x="1042.5" y="953.6" font-size="16.8" fill="#000" font-weight="normal" font-style="italic" text-anchor="middle" stroke="#000" stroke-width="0.5" textLength="43.2" lengthAdjust="spacingAndGlyphs">----nC</text>
</svg>
</body></html>
